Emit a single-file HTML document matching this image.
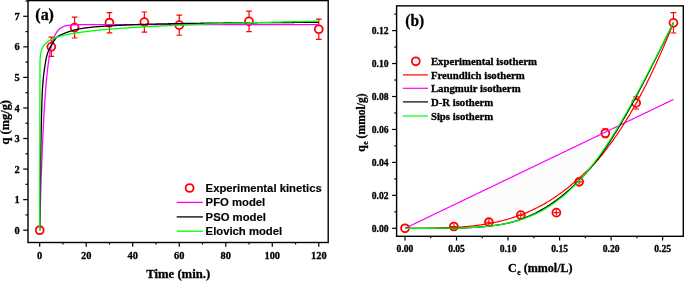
<!DOCTYPE html>
<html><head><meta charset="utf-8"><style>
html,body{margin:0;padding:0;background:#fff;}
svg{display:block;will-change:transform;}
</style></head><body>
<svg width="685" height="282" viewBox="0 0 685 282">
<rect width="685" height="282" fill="#fff"/>
<circle cx="39.70" cy="230.20" r="3.95" fill="#fff" stroke="#ff0000" stroke-width="1.8"/>
<path d="M51.33,37.21 V56.47 M48.53,37.21 h5.6 M48.53,56.47 h5.6" stroke="#ff0000" stroke-width="1.2" fill="none"/>
<circle cx="51.33" cy="46.84" r="3.95" fill="#fff" stroke="#ff0000" stroke-width="1.8"/>
<path d="M74.59,17.20 V37.98 M71.79,17.20 h5.6 M71.79,37.98 h5.6" stroke="#ff0000" stroke-width="1.2" fill="none"/>
<circle cx="74.59" cy="27.59" r="3.95" fill="#fff" stroke="#ff0000" stroke-width="1.8"/>
<path d="M109.47,12.61 V32.78 M106.67,12.61 h5.6 M106.67,32.78 h5.6" stroke="#ff0000" stroke-width="1.2" fill="none"/>
<circle cx="109.47" cy="22.70" r="3.95" fill="#fff" stroke="#ff0000" stroke-width="1.8"/>
<path d="M144.36,12.00 V32.17 M141.56,12.00 h5.6 M141.56,32.17 h5.6" stroke="#ff0000" stroke-width="1.2" fill="none"/>
<circle cx="144.36" cy="22.09" r="3.95" fill="#fff" stroke="#ff0000" stroke-width="1.8"/>
<path d="M179.25,15.06 V35.23 M176.45,15.06 h5.6 M176.45,35.23 h5.6" stroke="#ff0000" stroke-width="1.2" fill="none"/>
<circle cx="179.25" cy="25.14" r="3.95" fill="#fff" stroke="#ff0000" stroke-width="1.8"/>
<path d="M249.02,11.08 V31.56 M246.22,11.08 h5.6 M246.22,31.56 h5.6" stroke="#ff0000" stroke-width="1.2" fill="none"/>
<circle cx="249.02" cy="21.32" r="3.95" fill="#fff" stroke="#ff0000" stroke-width="1.8"/>
<path d="M318.80,19.18 V39.35 M316.00,19.18 h5.6 M316.00,39.35 h5.6" stroke="#ff0000" stroke-width="1.2" fill="none"/>
<circle cx="318.80" cy="29.27" r="3.95" fill="#fff" stroke="#ff0000" stroke-width="1.8"/>
<path d="M39.70,230.20 L39.98,219.39 L40.26,209.15 L40.54,199.44 L40.82,190.25 L41.10,181.53 L41.37,173.28 L41.65,165.46 L41.93,158.05 L42.21,151.03 L42.49,144.38 L42.77,138.08 L43.05,132.11 L43.33,126.46 L43.61,121.10 L43.89,116.02 L44.17,111.22 L44.44,106.66 L44.72,102.34 L45.00,98.25 L45.28,94.38 L45.56,90.70 L45.84,87.23 L46.12,83.93 L46.40,80.81 L46.68,77.85 L46.96,75.05 L47.24,72.39 L47.51,69.87 L47.79,67.49 L48.07,65.23 L48.35,63.09 L48.63,61.07 L48.91,59.15 L49.19,57.33 L49.47,55.60 L49.75,53.97 L50.03,52.42 L50.31,50.96 L50.58,49.57 L50.86,48.25 L51.14,47.00 L51.42,45.82 L51.70,44.70 L51.98,43.64 L52.26,42.64 L52.54,41.69 L52.82,40.78 L53.10,39.93 L53.38,39.12 L53.65,38.35 L53.93,37.63 L54.21,36.94 L54.49,36.29 L54.77,35.67 L55.05,35.08 L55.33,34.53 L55.61,34.00 L55.89,33.50 L56.17,33.03 L56.45,32.59 L56.72,32.16 L57.00,31.76 L57.28,31.38 L57.56,31.02 L57.84,30.68 L58.12,30.36 L58.40,30.05 L58.68,29.76 L58.96,29.49 L59.24,29.23 L59.52,28.98 L59.79,28.74 L60.07,28.52 L60.35,28.31 L60.63,28.11 L60.91,27.93 L61.19,27.75 L61.47,27.58 L61.75,27.42 L62.03,27.27 L62.31,27.12 L62.59,26.99 L62.86,26.86 L63.14,26.74 L63.42,26.62 L63.70,26.51 L63.98,26.41 L64.26,26.31 L64.54,26.21 L64.82,26.13 L65.10,26.04 L65.38,25.96 L65.66,25.89 L65.94,25.82 L66.21,25.75 L66.49,25.68 L66.77,25.62 L67.05,25.57 L67.33,25.51 L67.61,25.46 L67.89,25.41 L68.17,25.37 L68.45,25.32 L68.73,25.28 L69.01,25.24 L69.28,25.20 L69.56,25.17 L69.84,25.13 L70.12,25.10 L70.40,25.07 L70.68,25.04 L70.96,25.02 L71.24,24.99 L71.52,24.97 L71.80,24.94 L72.08,24.92 L72.35,24.90 L72.63,24.88 L72.91,24.86 L73.19,24.85 L73.47,24.83 L73.75,24.81 L74.03,24.80 L74.31,24.79 L74.59,24.77 L74.87,24.76 L75.15,24.75 L75.42,24.74 L75.70,24.73 L75.98,24.72 L76.26,24.71 L76.54,24.70 L76.82,24.69 L77.10,24.68 L77.38,24.67 L77.66,24.66 L77.94,24.66 L78.22,24.65 L78.49,24.64 L78.77,24.64 L79.05,24.63 L79.33,24.63 L79.61,24.62 L79.89,24.62 L80.17,24.61 L80.45,24.61 L80.73,24.60 L81.01,24.60 L81.29,24.60 L81.56,24.59 L81.84,24.59 L82.12,24.59 L82.40,24.58 L82.68,24.58 L82.96,24.58 L83.24,24.58 L83.52,24.57 L83.80,24.57 L84.08,24.57 L84.36,24.57 L84.63,24.57 L84.91,24.56 L85.19,24.56 L85.47,24.56 L85.75,24.56 L86.03,24.56 L86.31,24.56 L86.59,24.55 L86.87,24.55 L87.15,24.55 L87.43,24.55 L87.70,24.55 L87.98,24.55 L88.26,24.55 L88.54,24.55 L88.82,24.55 L89.10,24.55 L89.38,24.54 L89.66,24.54 L89.94,24.54 L90.22,24.54 L90.50,24.54 L90.77,24.54 L91.05,24.54 L91.33,24.54 L91.61,24.54 L91.89,24.54 L92.17,24.54 L92.45,24.54 L92.73,24.54 L93.01,24.54 L93.29,24.54 L93.57,24.54 L93.84,24.54 L94.12,24.54 L94.40,24.54 L94.68,24.54 L94.96,24.54 L95.24,24.54 L95.52,24.54 L95.80,24.54 L96.08,24.53 L96.36,24.53 L96.64,24.53 L96.91,24.53 L97.19,24.53 L97.47,24.53 L97.75,24.53 L98.03,24.53 L98.31,24.53 L98.59,24.53 L98.87,24.53 L99.15,24.53 L99.43,24.53 L99.71,24.53 L99.98,24.53 L100.26,24.53 L100.54,24.53 L100.82,24.53 L101.10,24.53 L101.38,24.53 L101.66,24.53 L101.94,24.53 L102.22,24.53 L102.50,24.53 L102.78,24.53 L103.05,24.53 L103.33,24.53 L103.61,24.53 L103.89,24.53 L104.17,24.53 L104.45,24.53 L104.73,24.53 L105.01,24.53 L105.29,24.53 L105.57,24.53 L105.85,24.53 L106.12,24.53 L106.40,24.53 L106.68,24.53 L106.96,24.53 L107.24,24.53 L107.52,24.53 L107.80,24.53 L108.08,24.53 L108.36,24.53 L108.64,24.53 L108.92,24.53 L109.19,24.53 L109.47,24.53 L109.75,24.53 L110.03,24.53 L110.31,24.53 L110.59,24.53 L110.87,24.53 L111.15,24.53 L111.43,24.53 L111.71,24.53 L111.99,24.53 L112.26,24.53 L112.54,24.53 L112.82,24.53 L113.10,24.53 L113.38,24.53 L113.66,24.53 L113.94,24.53 L114.22,24.53 L114.50,24.53 L114.78,24.53 L115.06,24.53 L115.34,24.53 L115.61,24.53 L115.89,24.53 L116.17,24.53 L116.45,24.53 L116.73,24.53 L117.01,24.53 L117.29,24.53 L117.57,24.53 L117.85,24.53 L118.13,24.53 L118.41,24.53 L118.68,24.53 L118.96,24.53 L119.24,24.53 L119.52,24.53 L119.80,24.53 L120.08,24.53 L120.36,24.53 L120.64,24.53 L120.92,24.53 L121.20,24.53 L121.48,24.53 L121.75,24.53 L122.03,24.53 L122.31,24.53 L122.59,24.53 L122.87,24.53 L123.15,24.53 L123.43,24.53 L123.71,24.53 L123.99,24.53 L124.27,24.53 L124.55,24.53 L124.82,24.53 L125.10,24.53 L125.38,24.53 L125.66,24.53 L125.94,24.53 L126.22,24.53 L126.50,24.53 L126.78,24.53 L127.06,24.53 L127.34,24.53 L127.62,24.53 L127.89,24.53 L128.17,24.53 L128.45,24.53 L128.73,24.53 L129.01,24.53 L129.29,24.53 L129.57,24.53 L129.85,24.53 L130.13,24.53 L130.41,24.53 L130.69,24.53 L130.96,24.53 L131.24,24.53 L131.52,24.53 L131.80,24.53 L132.08,24.53 L132.36,24.53 L132.64,24.53 L132.92,24.53 L133.20,24.53 L133.48,24.53 L133.76,24.53 L134.03,24.53 L134.31,24.53 L134.59,24.53 L134.87,24.53 L135.15,24.53 L135.43,24.53 L135.71,24.53 L135.99,24.53 L136.27,24.53 L136.55,24.53 L136.83,24.53 L137.10,24.53 L137.38,24.53 L137.66,24.53 L137.94,24.53 L138.22,24.53 L138.50,24.53 L138.78,24.53 L139.06,24.53 L139.34,24.53 L139.62,24.53 L139.90,24.53 L140.17,24.53 L140.45,24.53 L140.73,24.53 L141.01,24.53 L141.29,24.53 L141.57,24.53 L141.85,24.53 L142.13,24.53 L142.41,24.53 L142.69,24.53 L142.97,24.53 L143.24,24.53 L143.52,24.53 L143.80,24.53 L144.08,24.53 L144.36,24.53 L144.64,24.53 L144.92,24.53 L145.20,24.53 L145.48,24.53 L145.76,24.53 L146.04,24.53 L146.31,24.53 L146.59,24.53 L146.87,24.53 L147.15,24.53 L147.43,24.53 L147.71,24.53 L147.99,24.53 L148.27,24.53 L148.55,24.53 L148.83,24.53 L149.11,24.53 L149.38,24.53 L149.66,24.53 L149.94,24.53 L150.22,24.53 L150.50,24.53 L150.78,24.53 L151.06,24.53 L151.34,24.53 L151.62,24.53 L151.90,24.53 L152.18,24.53 L152.45,24.53 L152.73,24.53 L153.01,24.53 L153.29,24.53 L153.57,24.53 L153.85,24.53 L154.13,24.53 L154.41,24.53 L154.69,24.53 L154.97,24.53 L155.25,24.53 L155.52,24.53 L155.80,24.53 L156.08,24.53 L156.36,24.53 L156.64,24.53 L156.92,24.53 L157.20,24.53 L157.48,24.53 L157.76,24.53 L158.04,24.53 L158.32,24.53 L158.59,24.53 L158.87,24.53 L159.15,24.53 L159.43,24.53 L159.71,24.53 L159.99,24.53 L160.27,24.53 L160.55,24.53 L160.83,24.53 L161.11,24.53 L161.39,24.53 L161.66,24.53 L161.94,24.53 L162.22,24.53 L162.50,24.53 L162.78,24.53 L163.06,24.53 L163.34,24.53 L163.62,24.53 L163.90,24.53 L164.18,24.53 L164.46,24.53 L164.74,24.53 L165.01,24.53 L165.29,24.53 L165.57,24.53 L165.85,24.53 L166.13,24.53 L166.41,24.53 L166.69,24.53 L166.97,24.53 L167.25,24.53 L167.53,24.53 L167.81,24.53 L168.08,24.53 L168.36,24.53 L168.64,24.53 L168.92,24.53 L169.20,24.53 L169.48,24.53 L169.76,24.53 L170.04,24.53 L170.32,24.53 L170.60,24.53 L170.88,24.53 L171.15,24.53 L171.43,24.53 L171.71,24.53 L171.99,24.53 L172.27,24.53 L172.55,24.53 L172.83,24.53 L173.11,24.53 L173.39,24.53 L173.67,24.53 L173.95,24.53 L174.22,24.53 L174.50,24.53 L174.78,24.53 L175.06,24.53 L175.34,24.53 L175.62,24.53 L175.90,24.53 L176.18,24.53 L176.46,24.53 L176.74,24.53 L177.02,24.53 L177.29,24.53 L177.57,24.53 L177.85,24.53 L178.13,24.53 L178.41,24.53 L178.69,24.53 L178.97,24.53 L179.25,24.53 L179.53,24.53 L179.81,24.53 L180.09,24.53 L180.36,24.53 L180.64,24.53 L180.92,24.53 L181.20,24.53 L181.48,24.53 L181.76,24.53 L182.04,24.53 L182.32,24.53 L182.60,24.53 L182.88,24.53 L183.16,24.53 L183.43,24.53 L183.71,24.53 L183.99,24.53 L184.27,24.53 L184.55,24.53 L184.83,24.53 L185.11,24.53 L185.39,24.53 L185.67,24.53 L185.95,24.53 L186.23,24.53 L186.50,24.53 L186.78,24.53 L187.06,24.53 L187.34,24.53 L187.62,24.53 L187.90,24.53 L188.18,24.53 L188.46,24.53 L188.74,24.53 L189.02,24.53 L189.30,24.53 L189.57,24.53 L189.85,24.53 L190.13,24.53 L190.41,24.53 L190.69,24.53 L190.97,24.53 L191.25,24.53 L191.53,24.53 L191.81,24.53 L192.09,24.53 L192.37,24.53 L192.64,24.53 L192.92,24.53 L193.20,24.53 L193.48,24.53 L193.76,24.53 L194.04,24.53 L194.32,24.53 L194.60,24.53 L194.88,24.53 L195.16,24.53 L195.44,24.53 L195.71,24.53 L195.99,24.53 L196.27,24.53 L196.55,24.53 L196.83,24.53 L197.11,24.53 L197.39,24.53 L197.67,24.53 L197.95,24.53 L198.23,24.53 L198.51,24.53 L198.78,24.53 L199.06,24.53 L199.34,24.53 L199.62,24.53 L199.90,24.53 L200.18,24.53 L200.46,24.53 L200.74,24.53 L201.02,24.53 L201.30,24.53 L201.58,24.53 L201.85,24.53 L202.13,24.53 L202.41,24.53 L202.69,24.53 L202.97,24.53 L203.25,24.53 L203.53,24.53 L203.81,24.53 L204.09,24.53 L204.37,24.53 L204.65,24.53 L204.92,24.53 L205.20,24.53 L205.48,24.53 L205.76,24.53 L206.04,24.53 L206.32,24.53 L206.60,24.53 L206.88,24.53 L207.16,24.53 L207.44,24.53 L207.72,24.53 L207.99,24.53 L208.27,24.53 L208.55,24.53 L208.83,24.53 L209.11,24.53 L209.39,24.53 L209.67,24.53 L209.95,24.53 L210.23,24.53 L210.51,24.53 L210.79,24.53 L211.06,24.53 L211.34,24.53 L211.62,24.53 L211.90,24.53 L212.18,24.53 L212.46,24.53 L212.74,24.53 L213.02,24.53 L213.30,24.53 L213.58,24.53 L213.86,24.53 L214.13,24.53 L214.41,24.53 L214.69,24.53 L214.97,24.53 L215.25,24.53 L215.53,24.53 L215.81,24.53 L216.09,24.53 L216.37,24.53 L216.65,24.53 L216.93,24.53 L217.21,24.53 L217.48,24.53 L217.76,24.53 L218.04,24.53 L218.32,24.53 L218.60,24.53 L218.88,24.53 L219.16,24.53 L219.44,24.53 L219.72,24.53 L220.00,24.53 L220.28,24.53 L220.55,24.53 L220.83,24.53 L221.11,24.53 L221.39,24.53 L221.67,24.53 L221.95,24.53 L222.23,24.53 L222.51,24.53 L222.79,24.53 L223.07,24.53 L223.35,24.53 L223.62,24.53 L223.90,24.53 L224.18,24.53 L224.46,24.53 L224.74,24.53 L225.02,24.53 L225.30,24.53 L225.58,24.53 L225.86,24.53 L226.14,24.53 L226.42,24.53 L226.69,24.53 L226.97,24.53 L227.25,24.53 L227.53,24.53 L227.81,24.53 L228.09,24.53 L228.37,24.53 L228.65,24.53 L228.93,24.53 L229.21,24.53 L229.49,24.53 L229.76,24.53 L230.04,24.53 L230.32,24.53 L230.60,24.53 L230.88,24.53 L231.16,24.53 L231.44,24.53 L231.72,24.53 L232.00,24.53 L232.28,24.53 L232.56,24.53 L232.83,24.53 L233.11,24.53 L233.39,24.53 L233.67,24.53 L233.95,24.53 L234.23,24.53 L234.51,24.53 L234.79,24.53 L235.07,24.53 L235.35,24.53 L235.63,24.53 L235.90,24.53 L236.18,24.53 L236.46,24.53 L236.74,24.53 L237.02,24.53 L237.30,24.53 L237.58,24.53 L237.86,24.53 L238.14,24.53 L238.42,24.53 L238.70,24.53 L238.97,24.53 L239.25,24.53 L239.53,24.53 L239.81,24.53 L240.09,24.53 L240.37,24.53 L240.65,24.53 L240.93,24.53 L241.21,24.53 L241.49,24.53 L241.77,24.53 L242.04,24.53 L242.32,24.53 L242.60,24.53 L242.88,24.53 L243.16,24.53 L243.44,24.53 L243.72,24.53 L244.00,24.53 L244.28,24.53 L244.56,24.53 L244.84,24.53 L245.11,24.53 L245.39,24.53 L245.67,24.53 L245.95,24.53 L246.23,24.53 L246.51,24.53 L246.79,24.53 L247.07,24.53 L247.35,24.53 L247.63,24.53 L247.91,24.53 L248.18,24.53 L248.46,24.53 L248.74,24.53 L249.02,24.53 L249.30,24.53 L249.58,24.53 L249.86,24.53 L250.14,24.53 L250.42,24.53 L250.70,24.53 L250.98,24.53 L251.25,24.53 L251.53,24.53 L251.81,24.53 L252.09,24.53 L252.37,24.53 L252.65,24.53 L252.93,24.53 L253.21,24.53 L253.49,24.53 L253.77,24.53 L254.05,24.53 L254.32,24.53 L254.60,24.53 L254.88,24.53 L255.16,24.53 L255.44,24.53 L255.72,24.53 L256.00,24.53 L256.28,24.53 L256.56,24.53 L256.84,24.53 L257.12,24.53 L257.39,24.53 L257.67,24.53 L257.95,24.53 L258.23,24.53 L258.51,24.53 L258.79,24.53 L259.07,24.53 L259.35,24.53 L259.63,24.53 L259.91,24.53 L260.19,24.53 L260.46,24.53 L260.74,24.53 L261.02,24.53 L261.30,24.53 L261.58,24.53 L261.86,24.53 L262.14,24.53 L262.42,24.53 L262.70,24.53 L262.98,24.53 L263.26,24.53 L263.53,24.53 L263.81,24.53 L264.09,24.53 L264.37,24.53 L264.65,24.53 L264.93,24.53 L265.21,24.53 L265.49,24.53 L265.77,24.53 L266.05,24.53 L266.33,24.53 L266.61,24.53 L266.88,24.53 L267.16,24.53 L267.44,24.53 L267.72,24.53 L268.00,24.53 L268.28,24.53 L268.56,24.53 L268.84,24.53 L269.12,24.53 L269.40,24.53 L269.68,24.53 L269.95,24.53 L270.23,24.53 L270.51,24.53 L270.79,24.53 L271.07,24.53 L271.35,24.53 L271.63,24.53 L271.91,24.53 L272.19,24.53 L272.47,24.53 L272.75,24.53 L273.02,24.53 L273.30,24.53 L273.58,24.53 L273.86,24.53 L274.14,24.53 L274.42,24.53 L274.70,24.53 L274.98,24.53 L275.26,24.53 L275.54,24.53 L275.82,24.53 L276.09,24.53 L276.37,24.53 L276.65,24.53 L276.93,24.53 L277.21,24.53 L277.49,24.53 L277.77,24.53 L278.05,24.53 L278.33,24.53 L278.61,24.53 L278.89,24.53 L279.16,24.53 L279.44,24.53 L279.72,24.53 L280.00,24.53 L280.28,24.53 L280.56,24.53 L280.84,24.53 L281.12,24.53 L281.40,24.53 L281.68,24.53 L281.96,24.53 L282.23,24.53 L282.51,24.53 L282.79,24.53 L283.07,24.53 L283.35,24.53 L283.63,24.53 L283.91,24.53 L284.19,24.53 L284.47,24.53 L284.75,24.53 L285.03,24.53 L285.30,24.53 L285.58,24.53 L285.86,24.53 L286.14,24.53 L286.42,24.53 L286.70,24.53 L286.98,24.53 L287.26,24.53 L287.54,24.53 L287.82,24.53 L288.10,24.53 L288.37,24.53 L288.65,24.53 L288.93,24.53 L289.21,24.53 L289.49,24.53 L289.77,24.53 L290.05,24.53 L290.33,24.53 L290.61,24.53 L290.89,24.53 L291.17,24.53 L291.44,24.53 L291.72,24.53 L292.00,24.53 L292.28,24.53 L292.56,24.53 L292.84,24.53 L293.12,24.53 L293.40,24.53 L293.68,24.53 L293.96,24.53 L294.24,24.53 L294.51,24.53 L294.79,24.53 L295.07,24.53 L295.35,24.53 L295.63,24.53 L295.91,24.53 L296.19,24.53 L296.47,24.53 L296.75,24.53 L297.03,24.53 L297.31,24.53 L297.58,24.53 L297.86,24.53 L298.14,24.53 L298.42,24.53 L298.70,24.53 L298.98,24.53 L299.26,24.53 L299.54,24.53 L299.82,24.53 L300.10,24.53 L300.38,24.53 L300.65,24.53 L300.93,24.53 L301.21,24.53 L301.49,24.53 L301.77,24.53 L302.05,24.53 L302.33,24.53 L302.61,24.53 L302.89,24.53 L303.17,24.53 L303.45,24.53 L303.72,24.53 L304.00,24.53 L304.28,24.53 L304.56,24.53 L304.84,24.53 L305.12,24.53 L305.40,24.53 L305.68,24.53 L305.96,24.53 L306.24,24.53 L306.52,24.53 L306.79,24.53 L307.07,24.53 L307.35,24.53 L307.63,24.53 L307.91,24.53 L308.19,24.53 L308.47,24.53 L308.75,24.53 L309.03,24.53 L309.31,24.53 L309.59,24.53 L309.86,24.53 L310.14,24.53 L310.42,24.53 L310.70,24.53 L310.98,24.53 L311.26,24.53 L311.54,24.53 L311.82,24.53 L312.10,24.53 L312.38,24.53 L312.66,24.53 L312.93,24.53 L313.21,24.53 L313.49,24.53 L313.77,24.53 L314.05,24.53 L314.33,24.53 L314.61,24.53 L314.89,24.53 L315.17,24.53 L315.45,24.53 L315.73,24.53 L316.01,24.53 L316.28,24.53 L316.56,24.53 L316.84,24.53 L317.12,24.53 L317.40,24.53 L317.68,24.53 L317.96,24.53 L318.24,24.53 L318.52,24.53 L318.80,24.53" fill="none" stroke="#ff00ff" stroke-width="1.3" stroke-linejoin="round"/>
<path d="M39.70,230.20 L39.98,204.18 L40.26,181.73 L40.54,163.52 L40.82,148.35 L41.10,135.46 L41.37,123.55 L41.65,112.16 L41.93,102.07 L42.21,94.05 L42.49,88.72 L42.77,84.63 L43.05,81.14 L43.33,78.15 L43.61,75.55 L43.89,73.24 L44.17,71.12 L44.44,69.09 L44.72,67.14 L45.00,65.27 L45.28,63.51 L45.56,61.84 L45.84,60.29 L46.12,58.85 L46.40,57.53 L46.68,56.33 L46.96,55.26 L47.24,54.33 L47.51,53.49 L47.79,52.69 L48.07,51.93 L48.35,51.22 L48.63,50.55 L48.91,49.91 L49.19,49.31 L49.47,48.73 L49.75,48.18 L50.03,47.65 L50.31,47.14 L50.58,46.64 L50.86,46.16 L51.14,45.69 L51.42,45.22 L51.70,44.75 L51.98,44.29 L52.26,43.81 L52.54,43.34 L52.82,42.87 L53.10,42.40 L53.38,41.94 L53.65,41.48 L53.93,41.03 L54.21,40.59 L54.49,40.16 L54.77,39.75 L55.05,39.35 L55.33,38.97 L55.61,38.60 L55.89,38.26 L56.17,37.94 L56.45,37.65 L56.72,37.38 L57.00,37.13 L57.28,36.92 L57.56,36.71 L57.84,36.51 L58.12,36.32 L58.40,36.14 L58.68,35.97 L58.96,35.80 L59.24,35.64 L59.52,35.48 L59.79,35.33 L60.07,35.19 L60.35,35.05 L60.63,34.91 L60.91,34.78 L61.19,34.65 L61.47,34.53 L61.75,34.40 L62.03,34.28 L62.31,34.17 L62.59,34.05 L62.86,33.94 L63.14,33.82 L63.42,33.71 L63.70,33.59 L63.98,33.48 L64.26,33.36 L64.54,33.25 L64.82,33.14 L65.10,33.03 L65.38,32.92 L65.66,32.81 L65.94,32.71 L66.21,32.61 L66.49,32.50 L66.77,32.40 L67.05,32.30 L67.33,32.21 L67.61,32.11 L67.89,32.02 L68.17,31.92 L68.45,31.83 L68.73,31.74 L69.01,31.65 L69.28,31.56 L69.56,31.47 L69.84,31.39 L70.12,31.30 L70.40,31.22 L70.68,31.13 L70.96,31.05 L71.24,30.97 L71.52,30.89 L71.80,30.81 L72.08,30.72 L72.35,30.64 L72.63,30.56 L72.91,30.48 L73.19,30.40 L73.47,30.32 L73.75,30.24 L74.03,30.16 L74.31,30.09 L74.59,30.01 L74.87,29.93 L75.15,29.86 L75.42,29.78 L75.70,29.71 L75.98,29.64 L76.26,29.57 L76.54,29.50 L76.82,29.43 L77.10,29.36 L77.38,29.30 L77.66,29.23 L77.94,29.17 L78.22,29.11 L78.49,29.05 L78.77,29.00 L79.05,28.94 L79.33,28.89 L79.61,28.84 L79.89,28.79 L80.17,28.75 L80.45,28.70 L80.73,28.66 L81.01,28.61 L81.29,28.57 L81.56,28.52 L81.84,28.48 L82.12,28.43 L82.40,28.39 L82.68,28.35 L82.96,28.31 L83.24,28.26 L83.52,28.22 L83.80,28.18 L84.08,28.14 L84.36,28.10 L84.63,28.06 L84.91,28.02 L85.19,27.99 L85.47,27.95 L85.75,27.91 L86.03,27.87 L86.31,27.84 L86.59,27.80 L86.87,27.76 L87.15,27.73 L87.43,27.69 L87.70,27.66 L87.98,27.63 L88.26,27.59 L88.54,27.56 L88.82,27.53 L89.10,27.49 L89.38,27.46 L89.66,27.43 L89.94,27.40 L90.22,27.37 L90.50,27.34 L90.77,27.31 L91.05,27.28 L91.33,27.25 L91.61,27.22 L91.89,27.19 L92.17,27.16 L92.45,27.13 L92.73,27.11 L93.01,27.08 L93.29,27.05 L93.57,27.03 L93.84,27.00 L94.12,26.97 L94.40,26.95 L94.68,26.93 L94.96,26.90 L95.24,26.88 L95.52,26.85 L95.80,26.83 L96.08,26.81 L96.36,26.78 L96.64,26.76 L96.91,26.74 L97.19,26.72 L97.47,26.70 L97.75,26.68 L98.03,26.66 L98.31,26.64 L98.59,26.62 L98.87,26.60 L99.15,26.58 L99.43,26.56 L99.71,26.54 L99.98,26.52 L100.26,26.50 L100.54,26.48 L100.82,26.46 L101.10,26.44 L101.38,26.42 L101.66,26.40 L101.94,26.38 L102.22,26.36 L102.50,26.34 L102.78,26.32 L103.05,26.30 L103.33,26.28 L103.61,26.26 L103.89,26.25 L104.17,26.23 L104.45,26.21 L104.73,26.19 L105.01,26.17 L105.29,26.15 L105.57,26.14 L105.85,26.12 L106.12,26.10 L106.40,26.08 L106.68,26.06 L106.96,26.04 L107.24,26.03 L107.52,26.01 L107.80,25.99 L108.08,25.97 L108.36,25.96 L108.64,25.94 L108.92,25.92 L109.19,25.90 L109.47,25.89 L109.75,25.87 L110.03,25.85 L110.31,25.84 L110.59,25.82 L110.87,25.80 L111.15,25.79 L111.43,25.77 L111.71,25.75 L111.99,25.74 L112.26,25.72 L112.54,25.70 L112.82,25.69 L113.10,25.67 L113.38,25.65 L113.66,25.64 L113.94,25.62 L114.22,25.61 L114.50,25.59 L114.78,25.57 L115.06,25.56 L115.34,25.54 L115.61,25.53 L115.89,25.51 L116.17,25.50 L116.45,25.48 L116.73,25.47 L117.01,25.45 L117.29,25.44 L117.57,25.42 L117.85,25.41 L118.13,25.39 L118.41,25.38 L118.68,25.36 L118.96,25.35 L119.24,25.33 L119.52,25.32 L119.80,25.30 L120.08,25.29 L120.36,25.28 L120.64,25.26 L120.92,25.25 L121.20,25.23 L121.48,25.22 L121.75,25.20 L122.03,25.19 L122.31,25.18 L122.59,25.16 L122.87,25.15 L123.15,25.14 L123.43,25.12 L123.71,25.11 L123.99,25.10 L124.27,25.08 L124.55,25.07 L124.82,25.06 L125.10,25.04 L125.38,25.03 L125.66,25.02 L125.94,25.01 L126.22,24.99 L126.50,24.98 L126.78,24.97 L127.06,24.95 L127.34,24.94 L127.62,24.93 L127.89,24.92 L128.17,24.91 L128.45,24.89 L128.73,24.88 L129.01,24.87 L129.29,24.86 L129.57,24.85 L129.85,24.83 L130.13,24.82 L130.41,24.81 L130.69,24.80 L130.96,24.79 L131.24,24.78 L131.52,24.76 L131.80,24.75 L132.08,24.74 L132.36,24.73 L132.64,24.72 L132.92,24.71 L133.20,24.70 L133.48,24.69 L133.76,24.68 L134.03,24.67 L134.31,24.66 L134.59,24.64 L134.87,24.63 L135.15,24.62 L135.43,24.61 L135.71,24.60 L135.99,24.59 L136.27,24.58 L136.55,24.57 L136.83,24.56 L137.10,24.55 L137.38,24.54 L137.66,24.53 L137.94,24.52 L138.22,24.51 L138.50,24.50 L138.78,24.49 L139.06,24.49 L139.34,24.48 L139.62,24.47 L139.90,24.46 L140.17,24.45 L140.45,24.44 L140.73,24.43 L141.01,24.42 L141.29,24.41 L141.57,24.40 L141.85,24.39 L142.13,24.39 L142.41,24.38 L142.69,24.37 L142.97,24.36 L143.24,24.35 L143.52,24.34 L143.80,24.34 L144.08,24.33 L144.36,24.32 L144.64,24.31 L144.92,24.30 L145.20,24.29 L145.48,24.29 L145.76,24.28 L146.04,24.27 L146.31,24.26 L146.59,24.26 L146.87,24.25 L147.15,24.24 L147.43,24.23 L147.71,24.23 L147.99,24.22 L148.27,24.21 L148.55,24.20 L148.83,24.20 L149.11,24.19 L149.38,24.18 L149.66,24.18 L149.94,24.17 L150.22,24.16 L150.50,24.16 L150.78,24.15 L151.06,24.14 L151.34,24.14 L151.62,24.13 L151.90,24.12 L152.18,24.12 L152.45,24.11 L152.73,24.10 L153.01,24.10 L153.29,24.09 L153.57,24.08 L153.85,24.08 L154.13,24.07 L154.41,24.07 L154.69,24.06 L154.97,24.05 L155.25,24.05 L155.52,24.04 L155.80,24.03 L156.08,24.03 L156.36,24.02 L156.64,24.02 L156.92,24.01 L157.20,24.00 L157.48,24.00 L157.76,23.99 L158.04,23.98 L158.32,23.98 L158.59,23.97 L158.87,23.97 L159.15,23.96 L159.43,23.95 L159.71,23.95 L159.99,23.94 L160.27,23.94 L160.55,23.93 L160.83,23.93 L161.11,23.92 L161.39,23.91 L161.66,23.91 L161.94,23.90 L162.22,23.90 L162.50,23.89 L162.78,23.88 L163.06,23.88 L163.34,23.87 L163.62,23.87 L163.90,23.86 L164.18,23.86 L164.46,23.85 L164.74,23.85 L165.01,23.84 L165.29,23.83 L165.57,23.83 L165.85,23.82 L166.13,23.82 L166.41,23.81 L166.69,23.81 L166.97,23.80 L167.25,23.80 L167.53,23.79 L167.81,23.78 L168.08,23.78 L168.36,23.77 L168.64,23.77 L168.92,23.76 L169.20,23.76 L169.48,23.75 L169.76,23.75 L170.04,23.74 L170.32,23.74 L170.60,23.73 L170.88,23.73 L171.15,23.72 L171.43,23.72 L171.71,23.71 L171.99,23.71 L172.27,23.70 L172.55,23.70 L172.83,23.69 L173.11,23.69 L173.39,23.68 L173.67,23.68 L173.95,23.67 L174.22,23.67 L174.50,23.66 L174.78,23.66 L175.06,23.65 L175.34,23.65 L175.62,23.64 L175.90,23.64 L176.18,23.63 L176.46,23.63 L176.74,23.62 L177.02,23.62 L177.29,23.61 L177.57,23.61 L177.85,23.60 L178.13,23.60 L178.41,23.60 L178.69,23.59 L178.97,23.59 L179.25,23.58 L179.53,23.58 L179.81,23.57 L180.09,23.57 L180.36,23.56 L180.64,23.56 L180.92,23.55 L181.20,23.55 L181.48,23.54 L181.76,23.54 L182.04,23.54 L182.32,23.53 L182.60,23.53 L182.88,23.52 L183.16,23.52 L183.43,23.51 L183.71,23.51 L183.99,23.51 L184.27,23.50 L184.55,23.50 L184.83,23.49 L185.11,23.49 L185.39,23.48 L185.67,23.48 L185.95,23.48 L186.23,23.47 L186.50,23.47 L186.78,23.46 L187.06,23.46 L187.34,23.45 L187.62,23.45 L187.90,23.45 L188.18,23.44 L188.46,23.44 L188.74,23.43 L189.02,23.43 L189.30,23.43 L189.57,23.42 L189.85,23.42 L190.13,23.41 L190.41,23.41 L190.69,23.41 L190.97,23.40 L191.25,23.40 L191.53,23.39 L191.81,23.39 L192.09,23.39 L192.37,23.38 L192.64,23.38 L192.92,23.37 L193.20,23.37 L193.48,23.37 L193.76,23.36 L194.04,23.36 L194.32,23.36 L194.60,23.35 L194.88,23.35 L195.16,23.34 L195.44,23.34 L195.71,23.34 L195.99,23.33 L196.27,23.33 L196.55,23.33 L196.83,23.32 L197.11,23.32 L197.39,23.31 L197.67,23.31 L197.95,23.31 L198.23,23.30 L198.51,23.30 L198.78,23.30 L199.06,23.29 L199.34,23.29 L199.62,23.29 L199.90,23.28 L200.18,23.28 L200.46,23.28 L200.74,23.27 L201.02,23.27 L201.30,23.27 L201.58,23.26 L201.85,23.26 L202.13,23.25 L202.41,23.25 L202.69,23.25 L202.97,23.24 L203.25,23.24 L203.53,23.24 L203.81,23.23 L204.09,23.23 L204.37,23.23 L204.65,23.22 L204.92,23.22 L205.20,23.22 L205.48,23.21 L205.76,23.21 L206.04,23.21 L206.32,23.21 L206.60,23.20 L206.88,23.20 L207.16,23.20 L207.44,23.19 L207.72,23.19 L207.99,23.19 L208.27,23.18 L208.55,23.18 L208.83,23.18 L209.11,23.17 L209.39,23.17 L209.67,23.17 L209.95,23.16 L210.23,23.16 L210.51,23.16 L210.79,23.15 L211.06,23.15 L211.34,23.15 L211.62,23.15 L211.90,23.14 L212.18,23.14 L212.46,23.14 L212.74,23.13 L213.02,23.13 L213.30,23.13 L213.58,23.12 L213.86,23.12 L214.13,23.12 L214.41,23.12 L214.69,23.11 L214.97,23.11 L215.25,23.11 L215.53,23.10 L215.81,23.10 L216.09,23.10 L216.37,23.10 L216.65,23.09 L216.93,23.09 L217.21,23.09 L217.48,23.08 L217.76,23.08 L218.04,23.08 L218.32,23.08 L218.60,23.07 L218.88,23.07 L219.16,23.07 L219.44,23.06 L219.72,23.06 L220.00,23.06 L220.28,23.06 L220.55,23.05 L220.83,23.05 L221.11,23.05 L221.39,23.04 L221.67,23.04 L221.95,23.04 L222.23,23.04 L222.51,23.03 L222.79,23.03 L223.07,23.03 L223.35,23.03 L223.62,23.02 L223.90,23.02 L224.18,23.02 L224.46,23.02 L224.74,23.01 L225.02,23.01 L225.30,23.01 L225.58,23.00 L225.86,23.00 L226.14,23.00 L226.42,23.00 L226.69,22.99 L226.97,22.99 L227.25,22.99 L227.53,22.99 L227.81,22.98 L228.09,22.98 L228.37,22.98 L228.65,22.98 L228.93,22.97 L229.21,22.97 L229.49,22.97 L229.76,22.97 L230.04,22.96 L230.32,22.96 L230.60,22.96 L230.88,22.96 L231.16,22.95 L231.44,22.95 L231.72,22.95 L232.00,22.95 L232.28,22.94 L232.56,22.94 L232.83,22.94 L233.11,22.94 L233.39,22.93 L233.67,22.93 L233.95,22.93 L234.23,22.92 L234.51,22.92 L234.79,22.92 L235.07,22.92 L235.35,22.91 L235.63,22.91 L235.90,22.91 L236.18,22.91 L236.46,22.90 L236.74,22.90 L237.02,22.90 L237.30,22.90 L237.58,22.89 L237.86,22.89 L238.14,22.89 L238.42,22.89 L238.70,22.88 L238.97,22.88 L239.25,22.88 L239.53,22.88 L239.81,22.87 L240.09,22.87 L240.37,22.87 L240.65,22.87 L240.93,22.86 L241.21,22.86 L241.49,22.86 L241.77,22.86 L242.04,22.85 L242.32,22.85 L242.60,22.85 L242.88,22.85 L243.16,22.84 L243.44,22.84 L243.72,22.84 L244.00,22.84 L244.28,22.83 L244.56,22.83 L244.84,22.83 L245.11,22.83 L245.39,22.82 L245.67,22.82 L245.95,22.82 L246.23,22.82 L246.51,22.81 L246.79,22.81 L247.07,22.81 L247.35,22.81 L247.63,22.81 L247.91,22.80 L248.18,22.80 L248.46,22.80 L248.74,22.80 L249.02,22.79 L249.30,22.79 L249.58,22.79 L249.86,22.79 L250.14,22.78 L250.42,22.78 L250.70,22.78 L250.98,22.78 L251.25,22.77 L251.53,22.77 L251.81,22.77 L252.09,22.77 L252.37,22.76 L252.65,22.76 L252.93,22.76 L253.21,22.76 L253.49,22.76 L253.77,22.75 L254.05,22.75 L254.32,22.75 L254.60,22.75 L254.88,22.74 L255.16,22.74 L255.44,22.74 L255.72,22.74 L256.00,22.73 L256.28,22.73 L256.56,22.73 L256.84,22.73 L257.12,22.73 L257.39,22.72 L257.67,22.72 L257.95,22.72 L258.23,22.72 L258.51,22.71 L258.79,22.71 L259.07,22.71 L259.35,22.71 L259.63,22.70 L259.91,22.70 L260.19,22.70 L260.46,22.70 L260.74,22.70 L261.02,22.69 L261.30,22.69 L261.58,22.69 L261.86,22.69 L262.14,22.68 L262.42,22.68 L262.70,22.68 L262.98,22.68 L263.26,22.68 L263.53,22.67 L263.81,22.67 L264.09,22.67 L264.37,22.67 L264.65,22.67 L264.93,22.66 L265.21,22.66 L265.49,22.66 L265.77,22.66 L266.05,22.65 L266.33,22.65 L266.61,22.65 L266.88,22.65 L267.16,22.65 L267.44,22.64 L267.72,22.64 L268.00,22.64 L268.28,22.64 L268.56,22.64 L268.84,22.63 L269.12,22.63 L269.40,22.63 L269.68,22.63 L269.95,22.63 L270.23,22.62 L270.51,22.62 L270.79,22.62 L271.07,22.62 L271.35,22.62 L271.63,22.61 L271.91,22.61 L272.19,22.61 L272.47,22.61 L272.75,22.61 L273.02,22.60 L273.30,22.60 L273.58,22.60 L273.86,22.60 L274.14,22.60 L274.42,22.59 L274.70,22.59 L274.98,22.59 L275.26,22.59 L275.54,22.59 L275.82,22.58 L276.09,22.58 L276.37,22.58 L276.65,22.58 L276.93,22.58 L277.21,22.58 L277.49,22.57 L277.77,22.57 L278.05,22.57 L278.33,22.57 L278.61,22.57 L278.89,22.56 L279.16,22.56 L279.44,22.56 L279.72,22.56 L280.00,22.56 L280.28,22.56 L280.56,22.55 L280.84,22.55 L281.12,22.55 L281.40,22.55 L281.68,22.55 L281.96,22.54 L282.23,22.54 L282.51,22.54 L282.79,22.54 L283.07,22.54 L283.35,22.54 L283.63,22.53 L283.91,22.53 L284.19,22.53 L284.47,22.53 L284.75,22.53 L285.03,22.53 L285.30,22.52 L285.58,22.52 L285.86,22.52 L286.14,22.52 L286.42,22.52 L286.70,22.52 L286.98,22.51 L287.26,22.51 L287.54,22.51 L287.82,22.51 L288.10,22.51 L288.37,22.51 L288.65,22.50 L288.93,22.50 L289.21,22.50 L289.49,22.50 L289.77,22.50 L290.05,22.50 L290.33,22.50 L290.61,22.49 L290.89,22.49 L291.17,22.49 L291.44,22.49 L291.72,22.49 L292.00,22.49 L292.28,22.49 L292.56,22.48 L292.84,22.48 L293.12,22.48 L293.40,22.48 L293.68,22.48 L293.96,22.48 L294.24,22.48 L294.51,22.47 L294.79,22.47 L295.07,22.47 L295.35,22.47 L295.63,22.47 L295.91,22.47 L296.19,22.47 L296.47,22.46 L296.75,22.46 L297.03,22.46 L297.31,22.46 L297.58,22.46 L297.86,22.46 L298.14,22.46 L298.42,22.46 L298.70,22.45 L298.98,22.45 L299.26,22.45 L299.54,22.45 L299.82,22.45 L300.10,22.45 L300.38,22.45 L300.65,22.45 L300.93,22.45 L301.21,22.44 L301.49,22.44 L301.77,22.44 L302.05,22.44 L302.33,22.44 L302.61,22.44 L302.89,22.44 L303.17,22.44 L303.45,22.44 L303.72,22.43 L304.00,22.43 L304.28,22.43 L304.56,22.43 L304.84,22.43 L305.12,22.43 L305.40,22.43 L305.68,22.43 L305.96,22.43 L306.24,22.42 L306.52,22.42 L306.79,22.42 L307.07,22.42 L307.35,22.42 L307.63,22.42 L307.91,22.42 L308.19,22.42 L308.47,22.42 L308.75,22.42 L309.03,22.42 L309.31,22.41 L309.59,22.41 L309.86,22.41 L310.14,22.41 L310.42,22.41 L310.70,22.41 L310.98,22.41 L311.26,22.41 L311.54,22.41 L311.82,22.41 L312.10,22.41 L312.38,22.41 L312.66,22.41 L312.93,22.40 L313.21,22.40 L313.49,22.40 L313.77,22.40 L314.05,22.40 L314.33,22.40 L314.61,22.40 L314.89,22.40 L315.17,22.40 L315.45,22.40 L315.73,22.40 L316.01,22.40 L316.28,22.40 L316.56,22.40 L316.84,22.40 L317.12,22.40 L317.40,22.39 L317.68,22.39 L317.96,22.39 L318.24,22.39 L318.52,22.39 L318.80,22.39" fill="none" stroke="#000000" stroke-width="1.3" stroke-linejoin="round"/>
<path d="M39.70,230.20 L39.98,61.16 L40.26,57.14 L40.54,54.80 L40.82,53.13 L41.10,51.84 L41.37,50.78 L41.65,49.89 L41.93,49.12 L42.21,48.43 L42.49,47.82 L42.77,47.27 L43.05,46.77 L43.33,46.30 L43.61,45.88 L43.89,45.48 L44.17,45.10 L44.44,44.75 L44.72,44.42 L45.00,44.11 L45.28,43.81 L45.56,43.53 L45.84,43.26 L46.12,43.00 L46.40,42.75 L46.68,42.52 L46.96,42.29 L47.24,42.07 L47.51,41.86 L47.79,41.66 L48.07,41.46 L48.35,41.27 L48.63,41.09 L48.91,40.91 L49.19,40.74 L49.47,40.57 L49.75,40.41 L50.03,40.25 L50.31,40.09 L50.58,39.94 L50.86,39.80 L51.14,39.65 L51.42,39.51 L51.70,39.38 L51.98,39.24 L52.26,39.11 L52.54,38.99 L52.82,38.86 L53.10,38.74 L53.38,38.62 L53.65,38.50 L53.93,38.39 L54.21,38.28 L54.49,38.17 L54.77,38.06 L55.05,37.95 L55.33,37.85 L55.61,37.74 L55.89,37.64 L56.17,37.55 L56.45,37.45 L56.72,37.35 L57.00,37.26 L57.28,37.17 L57.56,37.07 L57.84,36.98 L58.12,36.90 L58.40,36.81 L58.68,36.72 L58.96,36.64 L59.24,36.56 L59.52,36.47 L59.79,36.39 L60.07,36.31 L60.35,36.23 L60.63,36.16 L60.91,36.08 L61.19,36.00 L61.47,35.93 L61.75,35.85 L62.03,35.78 L62.31,35.71 L62.59,35.64 L62.86,35.57 L63.14,35.50 L63.42,35.43 L63.70,35.36 L63.98,35.30 L64.26,35.23 L64.54,35.16 L64.82,35.10 L65.10,35.04 L65.38,34.97 L65.66,34.91 L65.94,34.85 L66.21,34.79 L66.49,34.73 L66.77,34.67 L67.05,34.61 L67.33,34.55 L67.61,34.49 L67.89,34.43 L68.17,34.37 L68.45,34.32 L68.73,34.26 L69.01,34.21 L69.28,34.15 L69.56,34.10 L69.84,34.04 L70.12,33.99 L70.40,33.94 L70.68,33.89 L70.96,33.83 L71.24,33.78 L71.52,33.73 L71.80,33.68 L72.08,33.63 L72.35,33.58 L72.63,33.53 L72.91,33.48 L73.19,33.43 L73.47,33.39 L73.75,33.34 L74.03,33.29 L74.31,33.24 L74.59,33.20 L74.87,33.15 L75.15,33.11 L75.42,33.06 L75.70,33.01 L75.98,32.97 L76.26,32.93 L76.54,32.88 L76.82,32.84 L77.10,32.79 L77.38,32.75 L77.66,32.71 L77.94,32.67 L78.22,32.62 L78.49,32.58 L78.77,32.54 L79.05,32.50 L79.33,32.46 L79.61,32.42 L79.89,32.38 L80.17,32.34 L80.45,32.30 L80.73,32.26 L81.01,32.22 L81.29,32.18 L81.56,32.14 L81.84,32.10 L82.12,32.06 L82.40,32.03 L82.68,31.99 L82.96,31.95 L83.24,31.91 L83.52,31.88 L83.80,31.84 L84.08,31.80 L84.36,31.77 L84.63,31.73 L84.91,31.70 L85.19,31.66 L85.47,31.62 L85.75,31.59 L86.03,31.55 L86.31,31.52 L86.59,31.49 L86.87,31.45 L87.15,31.42 L87.43,31.38 L87.70,31.35 L87.98,31.32 L88.26,31.28 L88.54,31.25 L88.82,31.22 L89.10,31.18 L89.38,31.15 L89.66,31.12 L89.94,31.09 L90.22,31.05 L90.50,31.02 L90.77,30.99 L91.05,30.96 L91.33,30.93 L91.61,30.90 L91.89,30.86 L92.17,30.83 L92.45,30.80 L92.73,30.77 L93.01,30.74 L93.29,30.71 L93.57,30.68 L93.84,30.65 L94.12,30.62 L94.40,30.59 L94.68,30.56 L94.96,30.53 L95.24,30.50 L95.52,30.48 L95.80,30.45 L96.08,30.42 L96.36,30.39 L96.64,30.36 L96.91,30.33 L97.19,30.30 L97.47,30.28 L97.75,30.25 L98.03,30.22 L98.31,30.19 L98.59,30.17 L98.87,30.14 L99.15,30.11 L99.43,30.08 L99.71,30.06 L99.98,30.03 L100.26,30.00 L100.54,29.98 L100.82,29.95 L101.10,29.92 L101.38,29.90 L101.66,29.87 L101.94,29.85 L102.22,29.82 L102.50,29.79 L102.78,29.77 L103.05,29.74 L103.33,29.72 L103.61,29.69 L103.89,29.67 L104.17,29.64 L104.45,29.62 L104.73,29.59 L105.01,29.57 L105.29,29.54 L105.57,29.52 L105.85,29.49 L106.12,29.47 L106.40,29.44 L106.68,29.42 L106.96,29.40 L107.24,29.37 L107.52,29.35 L107.80,29.32 L108.08,29.30 L108.36,29.28 L108.64,29.25 L108.92,29.23 L109.19,29.21 L109.47,29.18 L109.75,29.16 L110.03,29.14 L110.31,29.11 L110.59,29.09 L110.87,29.07 L111.15,29.05 L111.43,29.02 L111.71,29.00 L111.99,28.98 L112.26,28.96 L112.54,28.93 L112.82,28.91 L113.10,28.89 L113.38,28.87 L113.66,28.85 L113.94,28.82 L114.22,28.80 L114.50,28.78 L114.78,28.76 L115.06,28.74 L115.34,28.72 L115.61,28.69 L115.89,28.67 L116.17,28.65 L116.45,28.63 L116.73,28.61 L117.01,28.59 L117.29,28.57 L117.57,28.55 L117.85,28.53 L118.13,28.51 L118.41,28.49 L118.68,28.47 L118.96,28.44 L119.24,28.42 L119.52,28.40 L119.80,28.38 L120.08,28.36 L120.36,28.34 L120.64,28.32 L120.92,28.30 L121.20,28.28 L121.48,28.26 L121.75,28.24 L122.03,28.22 L122.31,28.21 L122.59,28.19 L122.87,28.17 L123.15,28.15 L123.43,28.13 L123.71,28.11 L123.99,28.09 L124.27,28.07 L124.55,28.05 L124.82,28.03 L125.10,28.01 L125.38,27.99 L125.66,27.98 L125.94,27.96 L126.22,27.94 L126.50,27.92 L126.78,27.90 L127.06,27.88 L127.34,27.86 L127.62,27.84 L127.89,27.83 L128.17,27.81 L128.45,27.79 L128.73,27.77 L129.01,27.75 L129.29,27.74 L129.57,27.72 L129.85,27.70 L130.13,27.68 L130.41,27.66 L130.69,27.65 L130.96,27.63 L131.24,27.61 L131.52,27.59 L131.80,27.58 L132.08,27.56 L132.36,27.54 L132.64,27.52 L132.92,27.51 L133.20,27.49 L133.48,27.47 L133.76,27.45 L134.03,27.44 L134.31,27.42 L134.59,27.40 L134.87,27.39 L135.15,27.37 L135.43,27.35 L135.71,27.33 L135.99,27.32 L136.27,27.30 L136.55,27.28 L136.83,27.27 L137.10,27.25 L137.38,27.23 L137.66,27.22 L137.94,27.20 L138.22,27.19 L138.50,27.17 L138.78,27.15 L139.06,27.14 L139.34,27.12 L139.62,27.10 L139.90,27.09 L140.17,27.07 L140.45,27.06 L140.73,27.04 L141.01,27.02 L141.29,27.01 L141.57,26.99 L141.85,26.98 L142.13,26.96 L142.41,26.94 L142.69,26.93 L142.97,26.91 L143.24,26.90 L143.52,26.88 L143.80,26.87 L144.08,26.85 L144.36,26.84 L144.64,26.82 L144.92,26.80 L145.20,26.79 L145.48,26.77 L145.76,26.76 L146.04,26.74 L146.31,26.73 L146.59,26.71 L146.87,26.70 L147.15,26.68 L147.43,26.67 L147.71,26.65 L147.99,26.64 L148.27,26.62 L148.55,26.61 L148.83,26.59 L149.11,26.58 L149.38,26.56 L149.66,26.55 L149.94,26.53 L150.22,26.52 L150.50,26.51 L150.78,26.49 L151.06,26.48 L151.34,26.46 L151.62,26.45 L151.90,26.43 L152.18,26.42 L152.45,26.40 L152.73,26.39 L153.01,26.38 L153.29,26.36 L153.57,26.35 L153.85,26.33 L154.13,26.32 L154.41,26.30 L154.69,26.29 L154.97,26.28 L155.25,26.26 L155.52,26.25 L155.80,26.23 L156.08,26.22 L156.36,26.21 L156.64,26.19 L156.92,26.18 L157.20,26.17 L157.48,26.15 L157.76,26.14 L158.04,26.12 L158.32,26.11 L158.59,26.10 L158.87,26.08 L159.15,26.07 L159.43,26.06 L159.71,26.04 L159.99,26.03 L160.27,26.02 L160.55,26.00 L160.83,25.99 L161.11,25.98 L161.39,25.96 L161.66,25.95 L161.94,25.94 L162.22,25.92 L162.50,25.91 L162.78,25.90 L163.06,25.88 L163.34,25.87 L163.62,25.86 L163.90,25.84 L164.18,25.83 L164.46,25.82 L164.74,25.81 L165.01,25.79 L165.29,25.78 L165.57,25.77 L165.85,25.75 L166.13,25.74 L166.41,25.73 L166.69,25.72 L166.97,25.70 L167.25,25.69 L167.53,25.68 L167.81,25.66 L168.08,25.65 L168.36,25.64 L168.64,25.63 L168.92,25.61 L169.20,25.60 L169.48,25.59 L169.76,25.58 L170.04,25.56 L170.32,25.55 L170.60,25.54 L170.88,25.53 L171.15,25.52 L171.43,25.50 L171.71,25.49 L171.99,25.48 L172.27,25.47 L172.55,25.45 L172.83,25.44 L173.11,25.43 L173.39,25.42 L173.67,25.41 L173.95,25.39 L174.22,25.38 L174.50,25.37 L174.78,25.36 L175.06,25.35 L175.34,25.33 L175.62,25.32 L175.90,25.31 L176.18,25.30 L176.46,25.29 L176.74,25.27 L177.02,25.26 L177.29,25.25 L177.57,25.24 L177.85,25.23 L178.13,25.22 L178.41,25.20 L178.69,25.19 L178.97,25.18 L179.25,25.17 L179.53,25.16 L179.81,25.15 L180.09,25.13 L180.36,25.12 L180.64,25.11 L180.92,25.10 L181.20,25.09 L181.48,25.08 L181.76,25.07 L182.04,25.05 L182.32,25.04 L182.60,25.03 L182.88,25.02 L183.16,25.01 L183.43,25.00 L183.71,24.99 L183.99,24.98 L184.27,24.96 L184.55,24.95 L184.83,24.94 L185.11,24.93 L185.39,24.92 L185.67,24.91 L185.95,24.90 L186.23,24.89 L186.50,24.88 L186.78,24.86 L187.06,24.85 L187.34,24.84 L187.62,24.83 L187.90,24.82 L188.18,24.81 L188.46,24.80 L188.74,24.79 L189.02,24.78 L189.30,24.77 L189.57,24.76 L189.85,24.74 L190.13,24.73 L190.41,24.72 L190.69,24.71 L190.97,24.70 L191.25,24.69 L191.53,24.68 L191.81,24.67 L192.09,24.66 L192.37,24.65 L192.64,24.64 L192.92,24.63 L193.20,24.62 L193.48,24.61 L193.76,24.60 L194.04,24.59 L194.32,24.58 L194.60,24.56 L194.88,24.55 L195.16,24.54 L195.44,24.53 L195.71,24.52 L195.99,24.51 L196.27,24.50 L196.55,24.49 L196.83,24.48 L197.11,24.47 L197.39,24.46 L197.67,24.45 L197.95,24.44 L198.23,24.43 L198.51,24.42 L198.78,24.41 L199.06,24.40 L199.34,24.39 L199.62,24.38 L199.90,24.37 L200.18,24.36 L200.46,24.35 L200.74,24.34 L201.02,24.33 L201.30,24.32 L201.58,24.31 L201.85,24.30 L202.13,24.29 L202.41,24.28 L202.69,24.27 L202.97,24.26 L203.25,24.25 L203.53,24.24 L203.81,24.23 L204.09,24.22 L204.37,24.21 L204.65,24.20 L204.92,24.19 L205.20,24.18 L205.48,24.17 L205.76,24.16 L206.04,24.15 L206.32,24.14 L206.60,24.13 L206.88,24.12 L207.16,24.11 L207.44,24.10 L207.72,24.09 L207.99,24.08 L208.27,24.07 L208.55,24.07 L208.83,24.06 L209.11,24.05 L209.39,24.04 L209.67,24.03 L209.95,24.02 L210.23,24.01 L210.51,24.00 L210.79,23.99 L211.06,23.98 L211.34,23.97 L211.62,23.96 L211.90,23.95 L212.18,23.94 L212.46,23.93 L212.74,23.92 L213.02,23.91 L213.30,23.90 L213.58,23.90 L213.86,23.89 L214.13,23.88 L214.41,23.87 L214.69,23.86 L214.97,23.85 L215.25,23.84 L215.53,23.83 L215.81,23.82 L216.09,23.81 L216.37,23.80 L216.65,23.79 L216.93,23.79 L217.21,23.78 L217.48,23.77 L217.76,23.76 L218.04,23.75 L218.32,23.74 L218.60,23.73 L218.88,23.72 L219.16,23.71 L219.44,23.70 L219.72,23.69 L220.00,23.69 L220.28,23.68 L220.55,23.67 L220.83,23.66 L221.11,23.65 L221.39,23.64 L221.67,23.63 L221.95,23.62 L222.23,23.61 L222.51,23.61 L222.79,23.60 L223.07,23.59 L223.35,23.58 L223.62,23.57 L223.90,23.56 L224.18,23.55 L224.46,23.54 L224.74,23.54 L225.02,23.53 L225.30,23.52 L225.58,23.51 L225.86,23.50 L226.14,23.49 L226.42,23.48 L226.69,23.47 L226.97,23.47 L227.25,23.46 L227.53,23.45 L227.81,23.44 L228.09,23.43 L228.37,23.42 L228.65,23.41 L228.93,23.41 L229.21,23.40 L229.49,23.39 L229.76,23.38 L230.04,23.37 L230.32,23.36 L230.60,23.35 L230.88,23.35 L231.16,23.34 L231.44,23.33 L231.72,23.32 L232.00,23.31 L232.28,23.30 L232.56,23.30 L232.83,23.29 L233.11,23.28 L233.39,23.27 L233.67,23.26 L233.95,23.25 L234.23,23.25 L234.51,23.24 L234.79,23.23 L235.07,23.22 L235.35,23.21 L235.63,23.20 L235.90,23.20 L236.18,23.19 L236.46,23.18 L236.74,23.17 L237.02,23.16 L237.30,23.15 L237.58,23.15 L237.86,23.14 L238.14,23.13 L238.42,23.12 L238.70,23.11 L238.97,23.11 L239.25,23.10 L239.53,23.09 L239.81,23.08 L240.09,23.07 L240.37,23.07 L240.65,23.06 L240.93,23.05 L241.21,23.04 L241.49,23.03 L241.77,23.03 L242.04,23.02 L242.32,23.01 L242.60,23.00 L242.88,22.99 L243.16,22.99 L243.44,22.98 L243.72,22.97 L244.00,22.96 L244.28,22.95 L244.56,22.95 L244.84,22.94 L245.11,22.93 L245.39,22.92 L245.67,22.91 L245.95,22.91 L246.23,22.90 L246.51,22.89 L246.79,22.88 L247.07,22.88 L247.35,22.87 L247.63,22.86 L247.91,22.85 L248.18,22.84 L248.46,22.84 L248.74,22.83 L249.02,22.82 L249.30,22.81 L249.58,22.81 L249.86,22.80 L250.14,22.79 L250.42,22.78 L250.70,22.77 L250.98,22.77 L251.25,22.76 L251.53,22.75 L251.81,22.74 L252.09,22.74 L252.37,22.73 L252.65,22.72 L252.93,22.71 L253.21,22.71 L253.49,22.70 L253.77,22.69 L254.05,22.68 L254.32,22.68 L254.60,22.67 L254.88,22.66 L255.16,22.65 L255.44,22.65 L255.72,22.64 L256.00,22.63 L256.28,22.62 L256.56,22.62 L256.84,22.61 L257.12,22.60 L257.39,22.59 L257.67,22.59 L257.95,22.58 L258.23,22.57 L258.51,22.56 L258.79,22.56 L259.07,22.55 L259.35,22.54 L259.63,22.53 L259.91,22.53 L260.19,22.52 L260.46,22.51 L260.74,22.51 L261.02,22.50 L261.30,22.49 L261.58,22.48 L261.86,22.48 L262.14,22.47 L262.42,22.46 L262.70,22.45 L262.98,22.45 L263.26,22.44 L263.53,22.43 L263.81,22.43 L264.09,22.42 L264.37,22.41 L264.65,22.40 L264.93,22.40 L265.21,22.39 L265.49,22.38 L265.77,22.38 L266.05,22.37 L266.33,22.36 L266.61,22.35 L266.88,22.35 L267.16,22.34 L267.44,22.33 L267.72,22.33 L268.00,22.32 L268.28,22.31 L268.56,22.30 L268.84,22.30 L269.12,22.29 L269.40,22.28 L269.68,22.28 L269.95,22.27 L270.23,22.26 L270.51,22.26 L270.79,22.25 L271.07,22.24 L271.35,22.23 L271.63,22.23 L271.91,22.22 L272.19,22.21 L272.47,22.21 L272.75,22.20 L273.02,22.19 L273.30,22.19 L273.58,22.18 L273.86,22.17 L274.14,22.16 L274.42,22.16 L274.70,22.15 L274.98,22.14 L275.26,22.14 L275.54,22.13 L275.82,22.12 L276.09,22.12 L276.37,22.11 L276.65,22.10 L276.93,22.10 L277.21,22.09 L277.49,22.08 L277.77,22.08 L278.05,22.07 L278.33,22.06 L278.61,22.06 L278.89,22.05 L279.16,22.04 L279.44,22.04 L279.72,22.03 L280.00,22.02 L280.28,22.02 L280.56,22.01 L280.84,22.00 L281.12,21.99 L281.40,21.99 L281.68,21.98 L281.96,21.97 L282.23,21.97 L282.51,21.96 L282.79,21.95 L283.07,21.95 L283.35,21.94 L283.63,21.94 L283.91,21.93 L284.19,21.92 L284.47,21.92 L284.75,21.91 L285.03,21.90 L285.30,21.90 L285.58,21.89 L285.86,21.88 L286.14,21.88 L286.42,21.87 L286.70,21.86 L286.98,21.86 L287.26,21.85 L287.54,21.84 L287.82,21.84 L288.10,21.83 L288.37,21.82 L288.65,21.82 L288.93,21.81 L289.21,21.80 L289.49,21.80 L289.77,21.79 L290.05,21.78 L290.33,21.78 L290.61,21.77 L290.89,21.77 L291.17,21.76 L291.44,21.75 L291.72,21.75 L292.00,21.74 L292.28,21.73 L292.56,21.73 L292.84,21.72 L293.12,21.71 L293.40,21.71 L293.68,21.70 L293.96,21.69 L294.24,21.69 L294.51,21.68 L294.79,21.68 L295.07,21.67 L295.35,21.66 L295.63,21.66 L295.91,21.65 L296.19,21.64 L296.47,21.64 L296.75,21.63 L297.03,21.63 L297.31,21.62 L297.58,21.61 L297.86,21.61 L298.14,21.60 L298.42,21.59 L298.70,21.59 L298.98,21.58 L299.26,21.58 L299.54,21.57 L299.82,21.56 L300.10,21.56 L300.38,21.55 L300.65,21.54 L300.93,21.54 L301.21,21.53 L301.49,21.53 L301.77,21.52 L302.05,21.51 L302.33,21.51 L302.61,21.50 L302.89,21.49 L303.17,21.49 L303.45,21.48 L303.72,21.48 L304.00,21.47 L304.28,21.46 L304.56,21.46 L304.84,21.45 L305.12,21.45 L305.40,21.44 L305.68,21.43 L305.96,21.43 L306.24,21.42 L306.52,21.42 L306.79,21.41 L307.07,21.40 L307.35,21.40 L307.63,21.39 L307.91,21.39 L308.19,21.38 L308.47,21.37 L308.75,21.37 L309.03,21.36 L309.31,21.36 L309.59,21.35 L309.86,21.34 L310.14,21.34 L310.42,21.33 L310.70,21.33 L310.98,21.32 L311.26,21.31 L311.54,21.31 L311.82,21.30 L312.10,21.30 L312.38,21.29 L312.66,21.28 L312.93,21.28 L313.21,21.27 L313.49,21.27 L313.77,21.26 L314.05,21.25 L314.33,21.25 L314.61,21.24 L314.89,21.24 L315.17,21.23 L315.45,21.23 L315.73,21.22 L316.01,21.21 L316.28,21.21 L316.56,21.20 L316.84,21.20 L317.12,21.19 L317.40,21.18 L317.68,21.18 L317.96,21.17 L318.24,21.17 L318.52,21.16 L318.80,21.16" fill="none" stroke="#00ff00" stroke-width="1.3" stroke-linejoin="round"/>
<rect x="28.0" y="0.6" width="300.2" height="241.9" fill="none" stroke="#000" stroke-width="1.4"/>
<line x1="23.2" y1="230.20" x2="28.0" y2="230.20" stroke="#000" stroke-width="1.2"/>
<text transform="translate(19.80,233.80) scale(1,1.0)" text-anchor="end" style="font-family:'Liberation Serif',serif;font-weight:bold;stroke:#000;stroke-width:0.3px;font-size:10.4px">0</text>
<line x1="25.5" y1="214.92" x2="28.0" y2="214.92" stroke="#000" stroke-width="1.2"/>
<line x1="23.2" y1="199.64" x2="28.0" y2="199.64" stroke="#000" stroke-width="1.2"/>
<text transform="translate(19.80,203.24) scale(1,1.0)" text-anchor="end" style="font-family:'Liberation Serif',serif;font-weight:bold;stroke:#000;stroke-width:0.3px;font-size:10.4px">1</text>
<line x1="25.5" y1="184.36" x2="28.0" y2="184.36" stroke="#000" stroke-width="1.2"/>
<line x1="23.2" y1="169.08" x2="28.0" y2="169.08" stroke="#000" stroke-width="1.2"/>
<text transform="translate(19.80,172.68) scale(1,1.0)" text-anchor="end" style="font-family:'Liberation Serif',serif;font-weight:bold;stroke:#000;stroke-width:0.3px;font-size:10.4px">2</text>
<line x1="25.5" y1="153.80" x2="28.0" y2="153.80" stroke="#000" stroke-width="1.2"/>
<line x1="23.2" y1="138.52" x2="28.0" y2="138.52" stroke="#000" stroke-width="1.2"/>
<text transform="translate(19.80,142.12) scale(1,1.0)" text-anchor="end" style="font-family:'Liberation Serif',serif;font-weight:bold;stroke:#000;stroke-width:0.3px;font-size:10.4px">3</text>
<line x1="25.5" y1="123.24" x2="28.0" y2="123.24" stroke="#000" stroke-width="1.2"/>
<line x1="23.2" y1="107.96" x2="28.0" y2="107.96" stroke="#000" stroke-width="1.2"/>
<text transform="translate(19.80,111.56) scale(1,1.0)" text-anchor="end" style="font-family:'Liberation Serif',serif;font-weight:bold;stroke:#000;stroke-width:0.3px;font-size:10.4px">4</text>
<line x1="25.5" y1="92.68" x2="28.0" y2="92.68" stroke="#000" stroke-width="1.2"/>
<line x1="23.2" y1="77.40" x2="28.0" y2="77.40" stroke="#000" stroke-width="1.2"/>
<text transform="translate(19.80,81.00) scale(1,1.0)" text-anchor="end" style="font-family:'Liberation Serif',serif;font-weight:bold;stroke:#000;stroke-width:0.3px;font-size:10.4px">5</text>
<line x1="25.5" y1="62.12" x2="28.0" y2="62.12" stroke="#000" stroke-width="1.2"/>
<line x1="23.2" y1="46.84" x2="28.0" y2="46.84" stroke="#000" stroke-width="1.2"/>
<text transform="translate(19.80,50.44) scale(1,1.0)" text-anchor="end" style="font-family:'Liberation Serif',serif;font-weight:bold;stroke:#000;stroke-width:0.3px;font-size:10.4px">6</text>
<line x1="25.5" y1="31.56" x2="28.0" y2="31.56" stroke="#000" stroke-width="1.2"/>
<line x1="23.2" y1="16.28" x2="28.0" y2="16.28" stroke="#000" stroke-width="1.2"/>
<text transform="translate(19.80,19.88) scale(1,1.0)" text-anchor="end" style="font-family:'Liberation Serif',serif;font-weight:bold;stroke:#000;stroke-width:0.3px;font-size:10.4px">7</text>
<line x1="25.5" y1="1.00" x2="28.0" y2="1.00" stroke="#000" stroke-width="1.2"/>
<line x1="39.70" y1="242.5" x2="39.70" y2="246.7" stroke="#000" stroke-width="1.2"/>
<text transform="translate(39.70,258.80) scale(1,1.0)" text-anchor="middle" style="font-family:'Liberation Serif',serif;font-weight:bold;stroke:#000;stroke-width:0.3px;font-size:10.4px">0</text>
<line x1="62.96" y1="242.5" x2="62.96" y2="244.5" stroke="#000" stroke-width="1.2"/>
<line x1="86.22" y1="242.5" x2="86.22" y2="246.7" stroke="#000" stroke-width="1.2"/>
<text transform="translate(86.22,258.80) scale(1,1.0)" text-anchor="middle" style="font-family:'Liberation Serif',serif;font-weight:bold;stroke:#000;stroke-width:0.3px;font-size:10.4px">20</text>
<line x1="109.47" y1="242.5" x2="109.47" y2="244.5" stroke="#000" stroke-width="1.2"/>
<line x1="132.73" y1="242.5" x2="132.73" y2="246.7" stroke="#000" stroke-width="1.2"/>
<text transform="translate(132.73,258.80) scale(1,1.0)" text-anchor="middle" style="font-family:'Liberation Serif',serif;font-weight:bold;stroke:#000;stroke-width:0.3px;font-size:10.4px">40</text>
<line x1="155.99" y1="242.5" x2="155.99" y2="244.5" stroke="#000" stroke-width="1.2"/>
<line x1="179.25" y1="242.5" x2="179.25" y2="246.7" stroke="#000" stroke-width="1.2"/>
<text transform="translate(179.25,258.80) scale(1,1.0)" text-anchor="middle" style="font-family:'Liberation Serif',serif;font-weight:bold;stroke:#000;stroke-width:0.3px;font-size:10.4px">60</text>
<line x1="202.51" y1="242.5" x2="202.51" y2="244.5" stroke="#000" stroke-width="1.2"/>
<line x1="225.76" y1="242.5" x2="225.76" y2="246.7" stroke="#000" stroke-width="1.2"/>
<text transform="translate(225.76,258.80) scale(1,1.0)" text-anchor="middle" style="font-family:'Liberation Serif',serif;font-weight:bold;stroke:#000;stroke-width:0.3px;font-size:10.4px">80</text>
<line x1="249.02" y1="242.5" x2="249.02" y2="244.5" stroke="#000" stroke-width="1.2"/>
<line x1="272.28" y1="242.5" x2="272.28" y2="246.7" stroke="#000" stroke-width="1.2"/>
<text transform="translate(272.28,258.80) scale(1,1.0)" text-anchor="middle" style="font-family:'Liberation Serif',serif;font-weight:bold;stroke:#000;stroke-width:0.3px;font-size:10.4px">100</text>
<line x1="295.54" y1="242.5" x2="295.54" y2="244.5" stroke="#000" stroke-width="1.2"/>
<line x1="318.80" y1="242.5" x2="318.80" y2="246.7" stroke="#000" stroke-width="1.2"/>
<text transform="translate(318.80,258.80) scale(1,1.0)" text-anchor="middle" style="font-family:'Liberation Serif',serif;font-weight:bold;stroke:#000;stroke-width:0.3px;font-size:10.4px">120</text>
<text transform="translate(178.20,278.20) scale(1,1.0)" text-anchor="middle" style="font-family:'Liberation Serif',serif;font-weight:bold;stroke:#000;stroke-width:0.3px;font-size:12.7px">Time (min.)</text>
<text transform="translate(9.2,122.2) rotate(-90)" text-anchor="middle" style="font-family:'Liberation Serif',serif;font-weight:bold;stroke:#000;stroke-width:0.3px;font-size:12.4px">q (mg/g)</text>
<text transform="translate(35.30,19.50) scale(1,1.03)" style="font-family:'Liberation Serif',serif;font-weight:bold;stroke:#000;stroke-width:0.3px;font-size:16px">(a)</text>
<circle cx="189.60" cy="188.00" r="3.95" fill="#fff" stroke="#ff0000" stroke-width="1.8"/>
<text x="205.6" y="192.0" style="font-family:'Liberation Sans',sans-serif;font-weight:bold;stroke:#000;stroke-width:0.15px;font-size:11.3px">Experimental kinetics</text>
<line x1="176.7" y1="202.4" x2="202.9" y2="202.4" stroke="#ff00ff" stroke-width="1.3"/>
<text x="205.6" y="206.4" style="font-family:'Liberation Sans',sans-serif;font-weight:bold;stroke:#000;stroke-width:0.15px;font-size:11.3px">PFO model</text>
<line x1="176.7" y1="216.9" x2="202.9" y2="216.9" stroke="#000000" stroke-width="1.3"/>
<text x="205.6" y="220.9" style="font-family:'Liberation Sans',sans-serif;font-weight:bold;stroke:#000;stroke-width:0.15px;font-size:11.3px">PSO model</text>
<line x1="176.7" y1="231.2" x2="202.9" y2="231.2" stroke="#00ff00" stroke-width="1.3"/>
<text x="205.6" y="235.2" style="font-family:'Liberation Sans',sans-serif;font-weight:bold;stroke:#000;stroke-width:0.15px;font-size:11.3px">Elovich model</text>
<path d="M405.00,228.30 L405.90,227.87 L406.80,227.44 L407.69,227.01 L408.59,226.58 L409.49,226.15 L410.39,225.71 L411.28,225.28 L412.18,224.85 L413.08,224.42 L413.98,223.99 L414.88,223.56 L415.77,223.13 L416.67,222.70 L417.57,222.27 L418.47,221.84 L419.36,221.41 L420.26,220.97 L421.16,220.54 L422.06,220.11 L422.96,219.68 L423.85,219.25 L424.75,218.82 L425.65,218.39 L426.55,217.96 L427.45,217.53 L428.34,217.10 L429.24,216.67 L430.14,216.24 L431.04,215.80 L431.93,215.37 L432.83,214.94 L433.73,214.51 L434.63,214.08 L435.53,213.65 L436.42,213.22 L437.32,212.79 L438.22,212.36 L439.12,211.93 L440.01,211.50 L440.91,211.06 L441.81,210.63 L442.71,210.20 L443.61,209.77 L444.50,209.34 L445.40,208.91 L446.30,208.48 L447.20,208.05 L448.09,207.62 L448.99,207.19 L449.89,206.76 L450.79,206.32 L451.69,205.89 L452.58,205.46 L453.48,205.03 L454.38,204.60 L455.28,204.17 L456.18,203.74 L457.07,203.31 L457.97,202.88 L458.87,202.45 L459.77,202.02 L460.66,201.59 L461.56,201.15 L462.46,200.72 L463.36,200.29 L464.26,199.86 L465.15,199.43 L466.05,199.00 L466.95,198.57 L467.85,198.14 L468.74,197.71 L469.64,197.28 L470.54,196.85 L471.44,196.41 L472.34,195.98 L473.23,195.55 L474.13,195.12 L475.03,194.69 L475.93,194.26 L476.82,193.83 L477.72,193.40 L478.62,192.97 L479.52,192.54 L480.42,192.11 L481.31,191.67 L482.21,191.24 L483.11,190.81 L484.01,190.38 L484.91,189.95 L485.80,189.52 L486.70,189.09 L487.60,188.66 L488.50,188.23 L489.39,187.80 L490.29,187.37 L491.19,186.94 L492.09,186.50 L492.99,186.07 L493.88,185.64 L494.78,185.21 L495.68,184.78 L496.58,184.35 L497.47,183.92 L498.37,183.49 L499.27,183.06 L500.17,182.63 L501.07,182.20 L501.96,181.76 L502.86,181.33 L503.76,180.90 L504.66,180.47 L505.55,180.04 L506.45,179.61 L507.35,179.18 L508.25,178.75 L509.15,178.32 L510.04,177.89 L510.94,177.46 L511.84,177.02 L512.74,176.59 L513.64,176.16 L514.53,175.73 L515.43,175.30 L516.33,174.87 L517.23,174.44 L518.12,174.01 L519.02,173.58 L519.92,173.15 L520.82,172.72 L521.72,172.28 L522.61,171.85 L523.51,171.42 L524.41,170.99 L525.31,170.56 L526.20,170.13 L527.10,169.70 L528.00,169.27 L528.90,168.84 L529.80,168.41 L530.69,167.98 L531.59,167.55 L532.49,167.11 L533.39,166.68 L534.28,166.25 L535.18,165.82 L536.08,165.39 L536.98,164.96 L537.88,164.53 L538.77,164.10 L539.67,163.67 L540.57,163.24 L541.47,162.81 L542.36,162.37 L543.26,161.94 L544.16,161.51 L545.06,161.08 L545.96,160.65 L546.85,160.22 L547.75,159.79 L548.65,159.36 L549.55,158.93 L550.45,158.50 L551.34,158.07 L552.24,157.63 L553.14,157.20 L554.04,156.77 L554.93,156.34 L555.83,155.91 L556.73,155.48 L557.63,155.05 L558.53,154.62 L559.42,154.19 L560.32,153.76 L561.22,153.33 L562.12,152.90 L563.01,152.46 L563.91,152.03 L564.81,151.60 L565.71,151.17 L566.61,150.74 L567.50,150.31 L568.40,149.88 L569.30,149.45 L570.20,149.02 L571.09,148.59 L571.99,148.16 L572.89,147.72 L573.79,147.29 L574.69,146.86 L575.58,146.43 L576.48,146.00 L577.38,145.57 L578.28,145.14 L579.18,144.71 L580.07,144.28 L580.97,143.85 L581.87,143.42 L582.77,142.98 L583.66,142.55 L584.56,142.12 L585.46,141.69 L586.36,141.26 L587.26,140.83 L588.15,140.40 L589.05,139.97 L589.95,139.54 L590.85,139.11 L591.74,138.68 L592.64,138.25 L593.54,137.81 L594.44,137.38 L595.34,136.95 L596.23,136.52 L597.13,136.09 L598.03,135.66 L598.93,135.23 L599.82,134.80 L600.72,134.37 L601.62,133.94 L602.52,133.51 L603.42,133.07 L604.31,132.64 L605.21,132.21 L606.11,131.78 L607.01,131.35 L607.91,130.92 L608.80,130.49 L609.70,130.06 L610.60,129.63 L611.50,129.20 L612.39,128.77 L613.29,128.33 L614.19,127.90 L615.09,127.47 L615.99,127.04 L616.88,126.61 L617.78,126.18 L618.68,125.75 L619.58,125.32 L619.58,125.88 L618.68,127.38 L617.78,128.87 L616.88,130.35 L615.99,131.82 L615.09,133.28 L614.19,134.72 L613.29,136.16 L612.39,137.59 L611.50,139.00 L610.60,140.41 L609.70,141.80 L608.80,143.18 L607.91,144.55 L607.01,145.91 L606.11,147.25 L605.21,148.59 L604.31,149.91 L603.42,151.22 L602.52,152.51 L601.62,153.80 L600.72,155.07 L599.82,156.33 L598.93,157.56 L598.03,158.77 L597.13,159.97 L596.23,161.14 L595.34,162.29 L594.44,163.43 L593.54,164.55 L592.64,165.65 L591.74,166.73 L590.85,167.80 L589.95,168.85 L589.05,169.89 L588.15,170.92 L587.26,171.93 L586.36,172.93 L585.46,173.92 L584.56,174.90 L583.66,175.87 L582.77,176.83 L581.87,177.78 L580.97,178.71 L580.07,179.62 L579.18,180.52 L578.28,181.40 L577.38,182.27 L576.48,183.12 L575.58,183.97 L574.69,184.81 L573.79,185.64 L572.89,186.46 L571.99,187.27 L571.09,188.09 L570.20,188.90 L569.30,189.71 L568.40,190.51 L567.50,191.29 L566.61,192.07 L565.71,192.83 L564.81,193.58 L563.91,194.32 L563.01,195.06 L562.12,195.78 L561.22,196.49 L560.32,197.19 L559.42,197.88 L558.53,198.56 L557.63,199.23 L556.73,199.89 L555.83,200.55 L554.93,201.19 L554.04,201.83 L553.14,202.46 L552.24,203.08 L551.34,203.70 L550.45,204.30 L549.55,204.90 L548.65,205.49 L547.75,206.07 L546.85,206.64 L545.96,207.20 L545.06,207.76 L544.16,208.30 L543.26,208.84 L542.36,209.36 L541.47,209.88 L540.57,210.39 L539.67,210.89 L538.77,211.38 L537.88,211.86 L536.98,212.33 L536.08,212.79 L535.18,213.23 L534.28,213.67 L533.39,214.10 L532.49,214.53 L531.59,214.94 L530.69,215.35 L529.80,215.76 L528.90,216.15 L528.00,216.54 L527.10,216.92 L526.20,217.30 L525.31,217.66 L524.41,218.02 L523.51,218.38 L522.61,218.72 L521.72,219.06 L520.82,219.39 L519.92,219.71 L519.02,220.02 L518.12,220.32 L517.23,220.62 L516.33,220.90 L515.43,221.18 L514.53,221.45 L513.64,221.71 L512.74,221.96 L511.84,222.20 L510.94,222.44 L510.04,222.66 L509.15,222.87 L508.25,223.08 L507.35,223.27 L506.45,223.46 L505.55,223.64 L504.66,223.82 L503.76,224.00 L502.86,224.16 L501.96,224.33 L501.07,224.48 L500.17,224.64 L499.27,224.79 L498.37,224.93 L497.47,225.07 L496.58,225.20 L495.68,225.33 L494.78,225.46 L493.88,225.58 L492.99,225.70 L492.09,225.81 L491.19,225.92 L490.29,226.03 L489.39,226.13 L488.50,226.23 L487.60,226.33 L486.70,226.42 L485.80,226.51 L484.91,226.59 L484.01,226.68 L483.11,226.76 L482.21,226.83 L481.31,226.91 L480.42,226.98 L479.52,227.04 L478.62,227.11 L477.72,227.17 L476.82,227.23 L475.93,227.29 L475.03,227.34 L474.13,227.40 L473.23,227.45 L472.34,227.49 L471.44,227.54 L470.54,227.58 L469.64,227.63 L468.74,227.67 L467.85,227.71 L466.95,227.74 L466.05,227.78 L465.15,227.81 L464.26,227.84 L463.36,227.87 L462.46,227.90 L461.56,227.93 L460.66,227.95 L459.77,227.97 L458.87,228.00 L457.97,228.02 L457.07,228.04 L456.18,228.06 L455.28,228.08 L454.38,228.09 L453.48,228.11 L452.58,228.12 L451.69,228.14 L450.79,228.15 L449.89,228.16 L448.99,228.18 L448.09,228.19 L447.20,228.20 L446.30,228.21 L445.40,228.21 L444.50,228.22 L443.61,228.23 L442.71,228.24 L441.81,228.24 L440.91,228.25 L440.01,228.25 L439.12,228.26 L438.22,228.26 L437.32,228.27 L436.42,228.27 L435.53,228.28 L434.63,228.28 L433.73,228.28 L432.83,228.28 L431.93,228.29 L431.04,228.29 L430.14,228.29 L429.24,228.29 L428.34,228.29 L427.45,228.29 L426.55,228.29 L425.65,228.30 L424.75,228.30 L423.85,228.30 L422.96,228.30 L422.06,228.30 L421.16,228.30 L420.26,228.30 L419.36,228.30 L418.47,228.30 L417.57,228.30 L416.67,228.30 L415.77,228.30 L414.88,228.30 L413.98,228.30 L413.08,228.30 L412.18,228.30 L411.28,228.30 L410.39,228.30 L409.49,228.30 L408.59,228.30 L407.69,228.30 L406.80,228.30 L405.90,228.30 L405.00,228.30Z" fill="#fcfcfc" stroke="none"/>
<circle cx="405.00" cy="228.30" r="3.95" fill="#fff" stroke="#ff0000" stroke-width="1.8"/>
<circle cx="453.85" cy="226.49" r="3.95" fill="#fff" stroke="#ff0000" stroke-width="1.8"/>
<path d="M450.95,226.49 h5.8 M453.85,223.59 v5.8" stroke="#ff0000" stroke-width="1.1" fill="none"/>
<circle cx="488.88" cy="222.20" r="3.95" fill="#fff" stroke="#ff0000" stroke-width="1.8"/>
<path d="M485.98,222.20 h5.8 M488.88,219.30 v5.8" stroke="#ff0000" stroke-width="1.1" fill="none"/>
<circle cx="520.83" cy="215.12" r="3.95" fill="#fff" stroke="#ff0000" stroke-width="1.8"/>
<path d="M517.93,215.12 h5.8 M520.83,212.22 v5.8" stroke="#ff0000" stroke-width="1.1" fill="none"/>
<circle cx="556.38" cy="212.65" r="3.95" fill="#fff" stroke="#ff0000" stroke-width="1.8"/>
<path d="M553.48,212.65 h5.8 M556.38,209.75 v5.8" stroke="#ff0000" stroke-width="1.1" fill="none"/>
<circle cx="579.15" cy="181.84" r="3.95" fill="#fff" stroke="#ff0000" stroke-width="1.8"/>
<path d="M576.25,181.84 h5.8 M579.15,178.94 v5.8" stroke="#ff0000" stroke-width="1.1" fill="none"/>
<path d="M605.33,128.79 V137.69 M602.43,128.79 h5.8 M602.43,137.69 h5.8" stroke="#ff0000" stroke-width="1.1" fill="none"/>
<circle cx="605.33" cy="133.24" r="3.95" fill="#fff" stroke="#ff0000" stroke-width="1.8"/>
<path d="M636.14,96.83 V109.02 M633.24,96.83 h5.8 M633.24,109.02 h5.8" stroke="#ff0000" stroke-width="1.1" fill="none"/>
<circle cx="636.14" cy="102.93" r="3.95" fill="#fff" stroke="#ff0000" stroke-width="1.8"/>
<path d="M673.45,12.64 V33.07 M670.55,12.64 h5.8 M670.55,33.07 h5.8" stroke="#ff0000" stroke-width="1.1" fill="none"/>
<circle cx="673.45" cy="22.86" r="3.95" fill="#fff" stroke="#ff0000" stroke-width="1.8"/>
<path d="M405.00,228.30 L405.90,227.87 L406.80,227.44 L407.69,227.01 L408.59,226.58 L409.49,226.15 L410.39,225.71 L411.28,225.28 L412.18,224.85 L413.08,224.42 L413.98,223.99 L414.88,223.56 L415.77,223.13 L416.67,222.70 L417.57,222.27 L418.47,221.84 L419.36,221.41 L420.26,220.97 L421.16,220.54 L422.06,220.11 L422.96,219.68 L423.85,219.25 L424.75,218.82 L425.65,218.39 L426.55,217.96 L427.45,217.53 L428.34,217.10 L429.24,216.67 L430.14,216.24 L431.04,215.80 L431.93,215.37 L432.83,214.94 L433.73,214.51 L434.63,214.08 L435.53,213.65 L436.42,213.22 L437.32,212.79 L438.22,212.36 L439.12,211.93 L440.01,211.50 L440.91,211.06 L441.81,210.63 L442.71,210.20 L443.61,209.77 L444.50,209.34 L445.40,208.91 L446.30,208.48 L447.20,208.05 L448.09,207.62 L448.99,207.19 L449.89,206.76 L450.79,206.32 L451.69,205.89 L452.58,205.46 L453.48,205.03 L454.38,204.60 L455.28,204.17 L456.18,203.74 L457.07,203.31 L457.97,202.88 L458.87,202.45 L459.77,202.02 L460.66,201.59 L461.56,201.15 L462.46,200.72 L463.36,200.29 L464.26,199.86 L465.15,199.43 L466.05,199.00 L466.95,198.57 L467.85,198.14 L468.74,197.71 L469.64,197.28 L470.54,196.85 L471.44,196.41 L472.34,195.98 L473.23,195.55 L474.13,195.12 L475.03,194.69 L475.93,194.26 L476.82,193.83 L477.72,193.40 L478.62,192.97 L479.52,192.54 L480.42,192.11 L481.31,191.67 L482.21,191.24 L483.11,190.81 L484.01,190.38 L484.91,189.95 L485.80,189.52 L486.70,189.09 L487.60,188.66 L488.50,188.23 L489.39,187.80 L490.29,187.37 L491.19,186.94 L492.09,186.50 L492.99,186.07 L493.88,185.64 L494.78,185.21 L495.68,184.78 L496.58,184.35 L497.47,183.92 L498.37,183.49 L499.27,183.06 L500.17,182.63 L501.07,182.20 L501.96,181.76 L502.86,181.33 L503.76,180.90 L504.66,180.47 L505.55,180.04 L506.45,179.61 L507.35,179.18 L508.25,178.75 L509.15,178.32 L510.04,177.89 L510.94,177.46 L511.84,177.02 L512.74,176.59 L513.64,176.16 L514.53,175.73 L515.43,175.30 L516.33,174.87 L517.23,174.44 L518.12,174.01 L519.02,173.58 L519.92,173.15 L520.82,172.72 L521.72,172.28 L522.61,171.85 L523.51,171.42 L524.41,170.99 L525.31,170.56 L526.20,170.13 L527.10,169.70 L528.00,169.27 L528.90,168.84 L529.80,168.41 L530.69,167.98 L531.59,167.55 L532.49,167.11 L533.39,166.68 L534.28,166.25 L535.18,165.82 L536.08,165.39 L536.98,164.96 L537.88,164.53 L538.77,164.10 L539.67,163.67 L540.57,163.24 L541.47,162.81 L542.36,162.37 L543.26,161.94 L544.16,161.51 L545.06,161.08 L545.96,160.65 L546.85,160.22 L547.75,159.79 L548.65,159.36 L549.55,158.93 L550.45,158.50 L551.34,158.07 L552.24,157.63 L553.14,157.20 L554.04,156.77 L554.93,156.34 L555.83,155.91 L556.73,155.48 L557.63,155.05 L558.53,154.62 L559.42,154.19 L560.32,153.76 L561.22,153.33 L562.12,152.90 L563.01,152.46 L563.91,152.03 L564.81,151.60 L565.71,151.17 L566.61,150.74 L567.50,150.31 L568.40,149.88 L569.30,149.45 L570.20,149.02 L571.09,148.59 L571.99,148.16 L572.89,147.72 L573.79,147.29 L574.69,146.86 L575.58,146.43 L576.48,146.00 L577.38,145.57 L578.28,145.14 L579.18,144.71 L580.07,144.28 L580.97,143.85 L581.87,143.42 L582.77,142.98 L583.66,142.55 L584.56,142.12 L585.46,141.69 L586.36,141.26 L587.26,140.83 L588.15,140.40 L589.05,139.97 L589.95,139.54 L590.85,139.11 L591.74,138.68 L592.64,138.25 L593.54,137.81 L594.44,137.38 L595.34,136.95 L596.23,136.52 L597.13,136.09 L598.03,135.66 L598.93,135.23 L599.82,134.80 L600.72,134.37 L601.62,133.94 L602.52,133.51 L603.42,133.07 L604.31,132.64 L605.21,132.21 L606.11,131.78 L607.01,131.35 L607.91,130.92 L608.80,130.49 L609.70,130.06 L610.60,129.63 L611.50,129.20 L612.39,128.77 L613.29,128.33 L614.19,127.90 L615.09,127.47 L615.99,127.04 L616.88,126.61 L617.78,126.18 L618.68,125.75 L619.58,125.32 L620.47,124.89 L621.37,124.46 L622.27,124.03 L623.17,123.60 L624.07,123.16 L624.96,122.73 L625.86,122.30 L626.76,121.87 L627.66,121.44 L628.55,121.01 L629.45,120.58 L630.35,120.15 L631.25,119.72 L632.15,119.29 L633.04,118.86 L633.94,118.42 L634.84,117.99 L635.74,117.56 L636.64,117.13 L637.53,116.70 L638.43,116.27 L639.33,115.84 L640.23,115.41 L641.12,114.98 L642.02,114.55 L642.92,114.12 L643.82,113.68 L644.72,113.25 L645.61,112.82 L646.51,112.39 L647.41,111.96 L648.31,111.53 L649.20,111.10 L650.10,110.67 L651.00,110.24 L651.90,109.81 L652.80,109.38 L653.69,108.94 L654.59,108.51 L655.49,108.08 L656.39,107.65 L657.28,107.22 L658.18,106.79 L659.08,106.36 L659.98,105.93 L660.88,105.50 L661.77,105.07 L662.67,104.64 L663.57,104.21 L664.47,103.77 L665.36,103.34 L666.26,102.91 L667.16,102.48 L668.06,102.05 L668.96,101.62 L669.85,101.19 L670.75,100.76 L671.65,100.33 L672.55,99.90 L673.45,99.47" fill="none" stroke="#ff00ff" stroke-width="1.2" stroke-linejoin="round"/>
<path d="M405.00,228.30 L405.90,228.30 L406.80,228.30 L407.69,228.30 L408.59,228.30 L409.49,228.30 L410.39,228.30 L411.28,228.30 L412.18,228.30 L413.08,228.30 L413.98,228.30 L414.88,228.30 L415.77,228.29 L416.67,228.29 L417.57,228.29 L418.47,228.29 L419.36,228.28 L420.26,228.28 L421.16,228.28 L422.06,228.27 L422.96,228.27 L423.85,228.26 L424.75,228.26 L425.65,228.25 L426.55,228.24 L427.45,228.23 L428.34,228.23 L429.24,228.22 L430.14,228.21 L431.04,228.19 L431.93,228.18 L432.83,228.17 L433.73,228.15 L434.63,228.14 L435.53,228.12 L436.42,228.10 L437.32,228.09 L438.22,228.07 L439.12,228.04 L440.01,228.02 L440.91,228.00 L441.81,227.97 L442.71,227.95 L443.61,227.92 L444.50,227.89 L445.40,227.86 L446.30,227.83 L447.20,227.79 L448.09,227.76 L448.99,227.72 L449.89,227.68 L450.79,227.64 L451.69,227.59 L452.58,227.55 L453.48,227.50 L454.38,227.45 L455.28,227.40 L456.18,227.35 L457.07,227.29 L457.97,227.24 L458.87,227.18 L459.77,227.12 L460.66,227.05 L461.56,226.98 L462.46,226.92 L463.36,226.84 L464.26,226.77 L465.15,226.69 L466.05,226.61 L466.95,226.53 L467.85,226.45 L468.74,226.36 L469.64,226.27 L470.54,226.18 L471.44,226.08 L472.34,225.98 L473.23,225.88 L474.13,225.78 L475.03,225.67 L475.93,225.56 L476.82,225.45 L477.72,225.33 L478.62,225.21 L479.52,225.08 L480.42,224.96 L481.31,224.82 L482.21,224.69 L483.11,224.55 L484.01,224.41 L484.91,224.27 L485.80,224.12 L486.70,223.96 L487.60,223.81 L488.50,223.65 L489.39,223.48 L490.29,223.31 L491.19,223.14 L492.09,222.97 L492.99,222.79 L493.88,222.60 L494.78,222.41 L495.68,222.22 L496.58,222.02 L497.47,221.82 L498.37,221.61 L499.27,221.40 L500.17,221.19 L501.07,220.97 L501.96,220.74 L502.86,220.51 L503.76,220.28 L504.66,220.04 L505.55,219.80 L506.45,219.55 L507.35,219.29 L508.25,219.04 L509.15,218.77 L510.04,218.50 L510.94,218.23 L511.84,217.95 L512.74,217.66 L513.64,217.37 L514.53,217.08 L515.43,216.78 L516.33,216.47 L517.23,216.16 L518.12,215.84 L519.02,215.52 L519.92,215.19 L520.82,214.85 L521.72,214.51 L522.61,214.16 L523.51,213.81 L524.41,213.45 L525.31,213.09 L526.20,212.71 L527.10,212.34 L528.00,211.95 L528.90,211.56 L529.80,211.17 L530.69,210.76 L531.59,210.35 L532.49,209.94 L533.39,209.51 L534.28,209.09 L535.18,208.65 L536.08,208.21 L536.98,207.76 L537.88,207.30 L538.77,206.84 L539.67,206.36 L540.57,205.89 L541.47,205.40 L542.36,204.91 L543.26,204.41 L544.16,203.90 L545.06,203.39 L545.96,202.87 L546.85,202.34 L547.75,201.80 L548.65,201.26 L549.55,200.70 L550.45,200.15 L551.34,199.58 L552.24,199.00 L553.14,198.42 L554.04,197.83 L554.93,197.23 L555.83,196.62 L556.73,196.00 L557.63,195.38 L558.53,194.75 L559.42,194.11 L560.32,193.46 L561.22,192.80 L562.12,192.13 L563.01,191.46 L563.91,190.78 L564.81,190.08 L565.71,189.38 L566.61,188.67 L567.50,187.96 L568.40,187.23 L569.30,186.49 L570.20,185.75 L571.09,185.00 L571.99,184.25 L572.89,183.49 L573.79,182.74 L574.69,181.98 L575.58,181.21 L576.48,180.44 L577.38,179.66 L578.28,178.88 L579.18,178.08 L580.07,177.28 L580.97,176.48 L581.87,175.66 L582.77,174.83 L583.66,173.99 L584.56,173.15 L585.46,172.29 L586.36,171.42 L587.26,170.56 L588.15,169.69 L589.05,168.82 L589.95,167.95 L590.85,167.06 L591.74,166.17 L592.64,165.27 L593.54,164.35 L594.44,163.42 L595.34,162.48 L596.23,161.51 L597.13,160.53 L598.03,159.52 L598.93,158.49 L599.82,157.44 L600.72,156.36 L601.62,155.25 L602.52,154.14 L603.42,153.01 L604.31,151.87 L605.21,150.72 L606.11,149.56 L607.01,148.39 L607.91,147.20 L608.80,146.00 L609.70,144.79 L610.60,143.57 L611.50,142.33 L612.39,141.08 L613.29,139.82 L614.19,138.55 L615.09,137.27 L615.99,135.97 L616.88,134.66 L617.78,133.34 L618.68,132.00 L619.58,130.65 L620.47,129.29 L621.37,127.92 L622.27,126.53 L623.17,125.13 L624.07,123.72 L624.96,122.29 L625.86,120.85 L626.76,119.40 L627.66,117.93 L628.55,116.45 L629.45,114.96 L630.35,113.45 L631.25,111.93 L632.15,110.39 L633.04,108.84 L633.94,107.27 L634.84,105.69 L635.74,104.09 L636.64,102.47 L637.53,100.84 L638.43,99.19 L639.33,97.53 L640.23,95.85 L641.12,94.15 L642.02,92.44 L642.92,90.72 L643.82,88.97 L644.72,87.22 L645.61,85.45 L646.51,83.66 L647.41,81.86 L648.31,80.04 L649.20,78.21 L650.10,76.36 L651.00,74.50 L651.90,72.62 L652.80,70.73 L653.69,68.83 L654.59,66.91 L655.49,64.97 L656.39,63.02 L657.28,61.05 L658.18,59.06 L659.08,57.06 L659.98,55.04 L660.88,53.00 L661.77,50.95 L662.67,48.88 L663.57,46.80 L664.47,44.70 L665.36,42.58 L666.26,40.45 L667.16,38.30 L668.06,36.13 L668.96,33.94 L669.85,31.74 L670.75,29.52 L671.65,27.29 L672.55,25.04 L673.45,22.77" fill="none" stroke="#ff0000" stroke-width="1.2" stroke-linejoin="round"/>
<path d="M405.00,228.30 L405.90,228.30 L406.80,228.30 L407.69,228.30 L408.59,228.30 L409.49,228.30 L410.39,228.30 L411.28,228.30 L412.18,228.30 L413.08,228.30 L413.98,228.30 L414.88,228.30 L415.77,228.30 L416.67,228.30 L417.57,228.30 L418.47,228.30 L419.36,228.30 L420.26,228.30 L421.16,228.30 L422.06,228.30 L422.96,228.30 L423.85,228.30 L424.75,228.30 L425.65,228.30 L426.55,228.29 L427.45,228.29 L428.34,228.29 L429.24,228.29 L430.14,228.29 L431.04,228.29 L431.93,228.29 L432.83,228.28 L433.73,228.28 L434.63,228.28 L435.53,228.28 L436.42,228.27 L437.32,228.27 L438.22,228.26 L439.12,228.26 L440.01,228.25 L440.91,228.25 L441.81,228.24 L442.71,228.24 L443.61,228.23 L444.50,228.22 L445.40,228.21 L446.30,228.21 L447.20,228.20 L448.09,228.19 L448.99,228.18 L449.89,228.16 L450.79,228.15 L451.69,228.14 L452.58,228.12 L453.48,228.11 L454.38,228.09 L455.28,228.08 L456.18,228.06 L457.07,228.04 L457.97,228.02 L458.87,228.00 L459.77,227.97 L460.66,227.95 L461.56,227.93 L462.46,227.90 L463.36,227.87 L464.26,227.84 L465.15,227.81 L466.05,227.78 L466.95,227.74 L467.85,227.71 L468.74,227.67 L469.64,227.63 L470.54,227.58 L471.44,227.54 L472.34,227.49 L473.23,227.45 L474.13,227.40 L475.03,227.34 L475.93,227.29 L476.82,227.23 L477.72,227.17 L478.62,227.11 L479.52,227.04 L480.42,226.98 L481.31,226.91 L482.21,226.83 L483.11,226.76 L484.01,226.68 L484.91,226.59 L485.80,226.51 L486.70,226.42 L487.60,226.33 L488.50,226.23 L489.39,226.13 L490.29,226.03 L491.19,225.92 L492.09,225.81 L492.99,225.70 L493.88,225.58 L494.78,225.46 L495.68,225.33 L496.58,225.20 L497.47,225.07 L498.37,224.93 L499.27,224.79 L500.17,224.64 L501.07,224.48 L501.96,224.33 L502.86,224.16 L503.76,224.00 L504.66,223.82 L505.55,223.64 L506.45,223.46 L507.35,223.27 L508.25,223.08 L509.15,222.87 L510.04,222.66 L510.94,222.44 L511.84,222.20 L512.74,221.96 L513.64,221.71 L514.53,221.45 L515.43,221.18 L516.33,220.90 L517.23,220.62 L518.12,220.32 L519.02,220.02 L519.92,219.71 L520.82,219.39 L521.72,219.06 L522.61,218.72 L523.51,218.38 L524.41,218.02 L525.31,217.66 L526.20,217.30 L527.10,216.92 L528.00,216.54 L528.90,216.15 L529.80,215.76 L530.69,215.35 L531.59,214.94 L532.49,214.53 L533.39,214.10 L534.28,213.67 L535.18,213.23 L536.08,212.79 L536.98,212.33 L537.88,211.86 L538.77,211.38 L539.67,210.89 L540.57,210.39 L541.47,209.88 L542.36,209.36 L543.26,208.84 L544.16,208.30 L545.06,207.76 L545.96,207.20 L546.85,206.64 L547.75,206.07 L548.65,205.49 L549.55,204.90 L550.45,204.30 L551.34,203.70 L552.24,203.08 L553.14,202.46 L554.04,201.83 L554.93,201.19 L555.83,200.55 L556.73,199.89 L557.63,199.23 L558.53,198.56 L559.42,197.88 L560.32,197.19 L561.22,196.49 L562.12,195.78 L563.01,195.06 L563.91,194.32 L564.81,193.58 L565.71,192.83 L566.61,192.07 L567.50,191.29 L568.40,190.51 L569.30,189.71 L570.20,188.90 L571.09,188.09 L571.99,187.27 L572.89,186.46 L573.79,185.64 L574.69,184.81 L575.58,183.97 L576.48,183.12 L577.38,182.27 L578.28,181.40 L579.18,180.52 L580.07,179.62 L580.97,178.71 L581.87,177.78 L582.77,176.83 L583.66,175.87 L584.56,174.90 L585.46,173.92 L586.36,172.93 L587.26,171.93 L588.15,170.92 L589.05,169.89 L589.95,168.85 L590.85,167.80 L591.74,166.73 L592.64,165.65 L593.54,164.55 L594.44,163.43 L595.34,162.29 L596.23,161.14 L597.13,159.97 L598.03,158.77 L598.93,157.56 L599.82,156.33 L600.72,155.07 L601.62,153.80 L602.52,152.51 L603.42,151.22 L604.31,149.91 L605.21,148.59 L606.11,147.25 L607.01,145.91 L607.91,144.55 L608.80,143.18 L609.70,141.80 L610.60,140.41 L611.50,139.00 L612.39,137.59 L613.29,136.16 L614.19,134.72 L615.09,133.28 L615.99,131.82 L616.88,130.35 L617.78,128.87 L618.68,127.38 L619.58,125.88 L620.47,124.37 L621.37,122.85 L622.27,121.32 L623.17,119.78 L624.07,118.23 L624.96,116.67 L625.86,115.10 L626.76,113.53 L627.66,111.94 L628.55,110.35 L629.45,108.75 L630.35,107.14 L631.25,105.52 L632.15,103.89 L633.04,102.25 L633.94,100.61 L634.84,98.95 L635.74,97.29 L636.64,95.61 L637.53,93.93 L638.43,92.24 L639.33,90.54 L640.23,88.84 L641.12,87.12 L642.02,85.40 L642.92,83.68 L643.82,81.94 L644.72,80.20 L645.61,78.46 L646.51,76.70 L647.41,74.95 L648.31,73.19 L649.20,71.42 L650.10,69.65 L651.00,67.88 L651.90,66.10 L652.80,64.32 L653.69,62.53 L654.59,60.74 L655.49,58.95 L656.39,57.16 L657.28,55.37 L658.18,53.57 L659.08,51.77 L659.98,49.97 L660.88,48.16 L661.77,46.35 L662.67,44.54 L663.57,42.72 L664.47,40.91 L665.36,39.09 L666.26,37.27 L667.16,35.45 L668.06,33.62 L668.96,31.80 L669.85,29.98 L670.75,28.15 L671.65,26.33 L672.55,24.51 L673.45,22.69" fill="none" stroke="#000000" stroke-width="1.2" stroke-linejoin="round"/>
<path d="M405.00,228.30 L405.90,228.30 L406.80,228.30 L407.69,228.30 L408.59,228.30 L409.49,228.30 L410.39,228.30 L411.28,228.30 L412.18,228.30 L413.08,228.30 L413.98,228.30 L414.88,228.30 L415.77,228.30 L416.67,228.30 L417.57,228.30 L418.47,228.30 L419.36,228.30 L420.26,228.30 L421.16,228.30 L422.06,228.30 L422.96,228.30 L423.85,228.30 L424.75,228.30 L425.65,228.30 L426.55,228.29 L427.45,228.29 L428.34,228.29 L429.24,228.29 L430.14,228.29 L431.04,228.29 L431.93,228.29 L432.83,228.28 L433.73,228.28 L434.63,228.28 L435.53,228.28 L436.42,228.27 L437.32,228.27 L438.22,228.26 L439.12,228.26 L440.01,228.25 L440.91,228.25 L441.81,228.24 L442.71,228.24 L443.61,228.23 L444.50,228.22 L445.40,228.21 L446.30,228.21 L447.20,228.20 L448.09,228.19 L448.99,228.18 L449.89,228.16 L450.79,228.15 L451.69,228.14 L452.58,228.12 L453.48,228.11 L454.38,228.09 L455.28,228.08 L456.18,228.06 L457.07,228.04 L457.97,228.02 L458.87,228.00 L459.77,227.97 L460.66,227.95 L461.56,227.93 L462.46,227.90 L463.36,227.87 L464.26,227.84 L465.15,227.81 L466.05,227.78 L466.95,227.74 L467.85,227.71 L468.74,227.67 L469.64,227.63 L470.54,227.58 L471.44,227.54 L472.34,227.49 L473.23,227.45 L474.13,227.40 L475.03,227.34 L475.93,227.29 L476.82,227.23 L477.72,227.17 L478.62,227.11 L479.52,227.04 L480.42,226.98 L481.31,226.91 L482.21,226.83 L483.11,226.76 L484.01,226.68 L484.91,226.59 L485.80,226.51 L486.70,226.42 L487.60,226.33 L488.50,226.23 L489.39,226.13 L490.29,226.03 L491.19,225.92 L492.09,225.81 L492.99,225.70 L493.88,225.58 L494.78,225.46 L495.68,225.33 L496.58,225.20 L497.47,225.07 L498.37,224.93 L499.27,224.79 L500.17,224.64 L501.07,224.48 L501.96,224.33 L502.86,224.16 L503.76,224.00 L504.66,223.82 L505.55,223.64 L506.45,223.46 L507.35,223.27 L508.25,223.08 L509.15,222.88 L510.04,222.67 L510.94,222.46 L511.84,222.24 L512.74,222.02 L513.64,221.79 L514.53,221.55 L515.43,221.31 L516.33,221.06 L517.23,220.80 L518.12,220.54 L519.02,220.27 L519.92,219.99 L520.82,219.71 L521.72,219.41 L522.61,219.12 L523.51,218.81 L524.41,218.50 L525.31,218.17 L526.20,217.84 L527.10,217.51 L528.00,217.16 L528.90,216.81 L529.80,216.45 L530.69,216.08 L531.59,215.70 L532.49,215.31 L533.39,214.92 L534.28,214.51 L535.18,214.10 L536.08,213.67 L536.98,213.24 L537.88,212.80 L538.77,212.35 L539.67,211.89 L540.57,211.42 L541.47,210.94 L542.36,210.45 L543.26,209.95 L544.16,209.44 L545.06,208.92 L545.96,208.39 L546.85,207.85 L547.75,207.30 L548.65,206.74 L549.55,206.17 L550.45,205.59 L551.34,205.00 L552.24,204.39 L553.14,203.78 L554.04,203.15 L554.93,202.51 L555.83,201.86 L556.73,201.20 L557.63,200.53 L558.53,199.85 L559.42,199.15 L560.32,198.45 L561.22,197.73 L562.12,197.00 L563.01,196.25 L563.91,195.50 L564.81,194.73 L565.71,193.95 L566.61,193.16 L567.50,192.36 L568.40,191.55 L569.30,190.72 L570.20,189.88 L571.09,189.02 L571.99,188.16 L572.89,187.28 L573.79,186.39 L574.69,185.49 L575.58,184.57 L576.48,183.64 L577.38,182.70 L578.28,181.75 L579.18,180.78 L580.07,179.80 L580.97,178.81 L581.87,177.80 L582.77,176.79 L583.66,175.76 L584.56,174.71 L585.46,173.66 L586.36,172.59 L587.26,171.50 L588.15,170.41 L589.05,169.30 L589.95,168.18 L590.85,167.05 L591.74,165.90 L592.64,164.74 L593.54,163.57 L594.44,162.39 L595.34,161.19 L596.23,159.98 L597.13,158.76 L598.03,157.53 L598.93,156.28 L599.82,155.03 L600.72,153.76 L601.62,152.47 L602.52,151.18 L603.42,149.87 L604.31,148.55 L605.21,147.22 L606.11,145.88 L607.01,144.53 L607.91,143.16 L608.80,141.79 L609.70,140.40 L610.60,139.00 L611.50,137.59 L612.39,136.17 L613.29,134.74 L614.19,133.29 L615.09,131.84 L615.99,130.38 L616.88,128.90 L617.78,127.42 L618.68,125.93 L619.58,124.42 L620.47,122.91 L621.37,121.38 L622.27,119.85 L623.17,118.31 L624.07,116.76 L624.96,115.20 L625.86,113.63 L626.76,112.05 L627.66,110.46 L628.55,108.87 L629.45,107.26 L630.35,105.65 L631.25,104.03 L632.15,102.41 L633.04,100.77 L633.94,99.13 L634.84,97.48 L635.74,95.83 L636.64,94.17 L637.53,92.50 L638.43,90.82 L639.33,89.14 L640.23,87.46 L641.12,85.76 L642.02,84.06 L642.92,82.36 L643.82,80.65 L644.72,78.94 L645.61,77.22 L646.51,75.50 L647.41,73.77 L648.31,72.04 L649.20,70.30 L650.10,68.56 L651.00,66.82 L651.90,65.07 L652.80,63.33 L653.69,61.57 L654.59,59.82 L655.49,58.06 L656.39,56.30 L657.28,54.54 L658.18,52.77 L659.08,51.01 L659.98,49.24 L660.88,47.47 L661.77,45.70 L662.67,43.93 L663.57,42.16 L664.47,40.39 L665.36,38.62 L666.26,36.85 L667.16,35.07 L668.06,33.30 L668.96,31.53 L669.85,29.76 L670.75,27.99 L671.65,26.22 L672.55,24.45 L673.45,22.69" fill="none" stroke="#00ff00" stroke-width="1.2" stroke-linejoin="round"/>
<rect x="396.6" y="5.85" width="286.69999999999993" height="230.45000000000002" fill="none" stroke="#000" stroke-width="1.4"/>
<line x1="392.1" y1="228.30" x2="396.6" y2="228.30" stroke="#000" stroke-width="1.2"/>
<text transform="translate(388.50,231.70) scale(1,1.0)" text-anchor="end" style="font-family:'Liberation Serif',serif;font-weight:bold;stroke:#000;stroke-width:0.3px;font-size:9.6px">0.00</text>
<line x1="394.3" y1="211.83" x2="396.6" y2="211.83" stroke="#000" stroke-width="1.2"/>
<line x1="392.1" y1="195.35" x2="396.6" y2="195.35" stroke="#000" stroke-width="1.2"/>
<text transform="translate(388.50,198.75) scale(1,1.0)" text-anchor="end" style="font-family:'Liberation Serif',serif;font-weight:bold;stroke:#000;stroke-width:0.3px;font-size:9.6px">0.02</text>
<line x1="394.3" y1="178.88" x2="396.6" y2="178.88" stroke="#000" stroke-width="1.2"/>
<line x1="392.1" y1="162.40" x2="396.6" y2="162.40" stroke="#000" stroke-width="1.2"/>
<text transform="translate(388.50,165.80) scale(1,1.0)" text-anchor="end" style="font-family:'Liberation Serif',serif;font-weight:bold;stroke:#000;stroke-width:0.3px;font-size:9.6px">0.04</text>
<line x1="394.3" y1="145.93" x2="396.6" y2="145.93" stroke="#000" stroke-width="1.2"/>
<line x1="392.1" y1="129.45" x2="396.6" y2="129.45" stroke="#000" stroke-width="1.2"/>
<text transform="translate(388.50,132.85) scale(1,1.0)" text-anchor="end" style="font-family:'Liberation Serif',serif;font-weight:bold;stroke:#000;stroke-width:0.3px;font-size:9.6px">0.06</text>
<line x1="394.3" y1="112.97" x2="396.6" y2="112.97" stroke="#000" stroke-width="1.2"/>
<line x1="392.1" y1="96.50" x2="396.6" y2="96.50" stroke="#000" stroke-width="1.2"/>
<text transform="translate(388.50,99.90) scale(1,1.0)" text-anchor="end" style="font-family:'Liberation Serif',serif;font-weight:bold;stroke:#000;stroke-width:0.3px;font-size:9.6px">0.08</text>
<line x1="394.3" y1="80.03" x2="396.6" y2="80.03" stroke="#000" stroke-width="1.2"/>
<line x1="392.1" y1="63.55" x2="396.6" y2="63.55" stroke="#000" stroke-width="1.2"/>
<text transform="translate(388.50,66.95) scale(1,1.0)" text-anchor="end" style="font-family:'Liberation Serif',serif;font-weight:bold;stroke:#000;stroke-width:0.3px;font-size:9.6px">0.10</text>
<line x1="394.3" y1="47.08" x2="396.6" y2="47.08" stroke="#000" stroke-width="1.2"/>
<line x1="392.1" y1="30.60" x2="396.6" y2="30.60" stroke="#000" stroke-width="1.2"/>
<text transform="translate(388.50,34.00) scale(1,1.0)" text-anchor="end" style="font-family:'Liberation Serif',serif;font-weight:bold;stroke:#000;stroke-width:0.3px;font-size:9.6px">0.12</text>
<line x1="394.3" y1="14.12" x2="396.6" y2="14.12" stroke="#000" stroke-width="1.2"/>
<line x1="405.00" y1="236.3" x2="405.00" y2="240.5" stroke="#000" stroke-width="1.2"/>
<text transform="translate(405.00,252.10) scale(1,1.0)" text-anchor="middle" style="font-family:'Liberation Serif',serif;font-weight:bold;stroke:#000;stroke-width:0.3px;font-size:9.6px">0.00</text>
<line x1="430.76" y1="236.3" x2="430.76" y2="238.3" stroke="#000" stroke-width="1.2"/>
<line x1="456.52" y1="236.3" x2="456.52" y2="240.5" stroke="#000" stroke-width="1.2"/>
<text transform="translate(456.52,252.10) scale(1,1.0)" text-anchor="middle" style="font-family:'Liberation Serif',serif;font-weight:bold;stroke:#000;stroke-width:0.3px;font-size:9.6px">0.05</text>
<line x1="482.29" y1="236.3" x2="482.29" y2="238.3" stroke="#000" stroke-width="1.2"/>
<line x1="508.05" y1="236.3" x2="508.05" y2="240.5" stroke="#000" stroke-width="1.2"/>
<text transform="translate(508.05,252.10) scale(1,1.0)" text-anchor="middle" style="font-family:'Liberation Serif',serif;font-weight:bold;stroke:#000;stroke-width:0.3px;font-size:9.6px">0.10</text>
<line x1="533.81" y1="236.3" x2="533.81" y2="238.3" stroke="#000" stroke-width="1.2"/>
<line x1="559.58" y1="236.3" x2="559.58" y2="240.5" stroke="#000" stroke-width="1.2"/>
<text transform="translate(559.58,252.10) scale(1,1.0)" text-anchor="middle" style="font-family:'Liberation Serif',serif;font-weight:bold;stroke:#000;stroke-width:0.3px;font-size:9.6px">0.15</text>
<line x1="585.34" y1="236.3" x2="585.34" y2="238.3" stroke="#000" stroke-width="1.2"/>
<line x1="611.10" y1="236.3" x2="611.10" y2="240.5" stroke="#000" stroke-width="1.2"/>
<text transform="translate(611.10,252.10) scale(1,1.0)" text-anchor="middle" style="font-family:'Liberation Serif',serif;font-weight:bold;stroke:#000;stroke-width:0.3px;font-size:9.6px">0.20</text>
<line x1="636.86" y1="236.3" x2="636.86" y2="238.3" stroke="#000" stroke-width="1.2"/>
<line x1="662.62" y1="236.3" x2="662.62" y2="240.5" stroke="#000" stroke-width="1.2"/>
<text transform="translate(662.62,252.10) scale(1,1.0)" text-anchor="middle" style="font-family:'Liberation Serif',serif;font-weight:bold;stroke:#000;stroke-width:0.3px;font-size:9.6px">0.25</text>
<text transform="translate(508.00,271.50) scale(1,1.0)" style="font-family:'Liberation Serif',serif;font-weight:bold;stroke:#000;stroke-width:0.3px;font-size:12.05px">C<tspan dx="0.6" dy="3.2" style="font-size:7.6px">e</tspan><tspan dy="-3.2"> (mmol/L)</tspan></text>
<text transform="translate(364.7,151.7) rotate(-90)" style="font-family:'Liberation Serif',serif;font-weight:bold;stroke:#000;stroke-width:0.3px;font-size:11.6px">q<tspan dx="0.6" dy="3" style="font-size:7.6px">e</tspan><tspan dy="-3"> (mmol/g)</tspan></text>
<text transform="translate(405.30,26.10) scale(1,1.03)" style="font-family:'Liberation Serif',serif;font-weight:bold;stroke:#000;stroke-width:0.3px;font-size:15.4px">(b)</text>
<circle cx="415.80" cy="61.30" r="3.95" fill="none" stroke="#ff0000" stroke-width="1.8"/>
<text transform="translate(430.90,64.90) scale(1,1.0)" style="font-family:'Liberation Serif',serif;font-weight:bold;stroke:#000;stroke-width:0.3px;font-size:10.75px">Experimental isotherm</text>
<line x1="402.9" y1="74.9" x2="428" y2="74.9" stroke="#ff0000" stroke-width="1.2"/>
<text transform="translate(430.90,78.50) scale(1,1.0)" style="font-family:'Liberation Serif',serif;font-weight:bold;stroke:#000;stroke-width:0.3px;font-size:10.75px">Freundlich isotherm</text>
<line x1="402.9" y1="88.3" x2="428" y2="88.3" stroke="#ff00ff" stroke-width="1.2"/>
<text transform="translate(430.90,91.90) scale(1,1.0)" style="font-family:'Liberation Serif',serif;font-weight:bold;stroke:#000;stroke-width:0.3px;font-size:10.75px">Langmuir isotherm</text>
<line x1="402.9" y1="101.9" x2="428" y2="101.9" stroke="#000000" stroke-width="1.2"/>
<text transform="translate(430.90,105.50) scale(1,1.0)" style="font-family:'Liberation Serif',serif;font-weight:bold;stroke:#000;stroke-width:0.3px;font-size:10.75px">D-R isotherm</text>
<line x1="402.9" y1="116" x2="428" y2="116" stroke="#00ff00" stroke-width="1.2"/>
<text transform="translate(430.90,119.60) scale(1,1.0)" style="font-family:'Liberation Serif',serif;font-weight:bold;stroke:#000;stroke-width:0.3px;font-size:10.75px">Sips isotherm</text>
</svg>
</body></html>
